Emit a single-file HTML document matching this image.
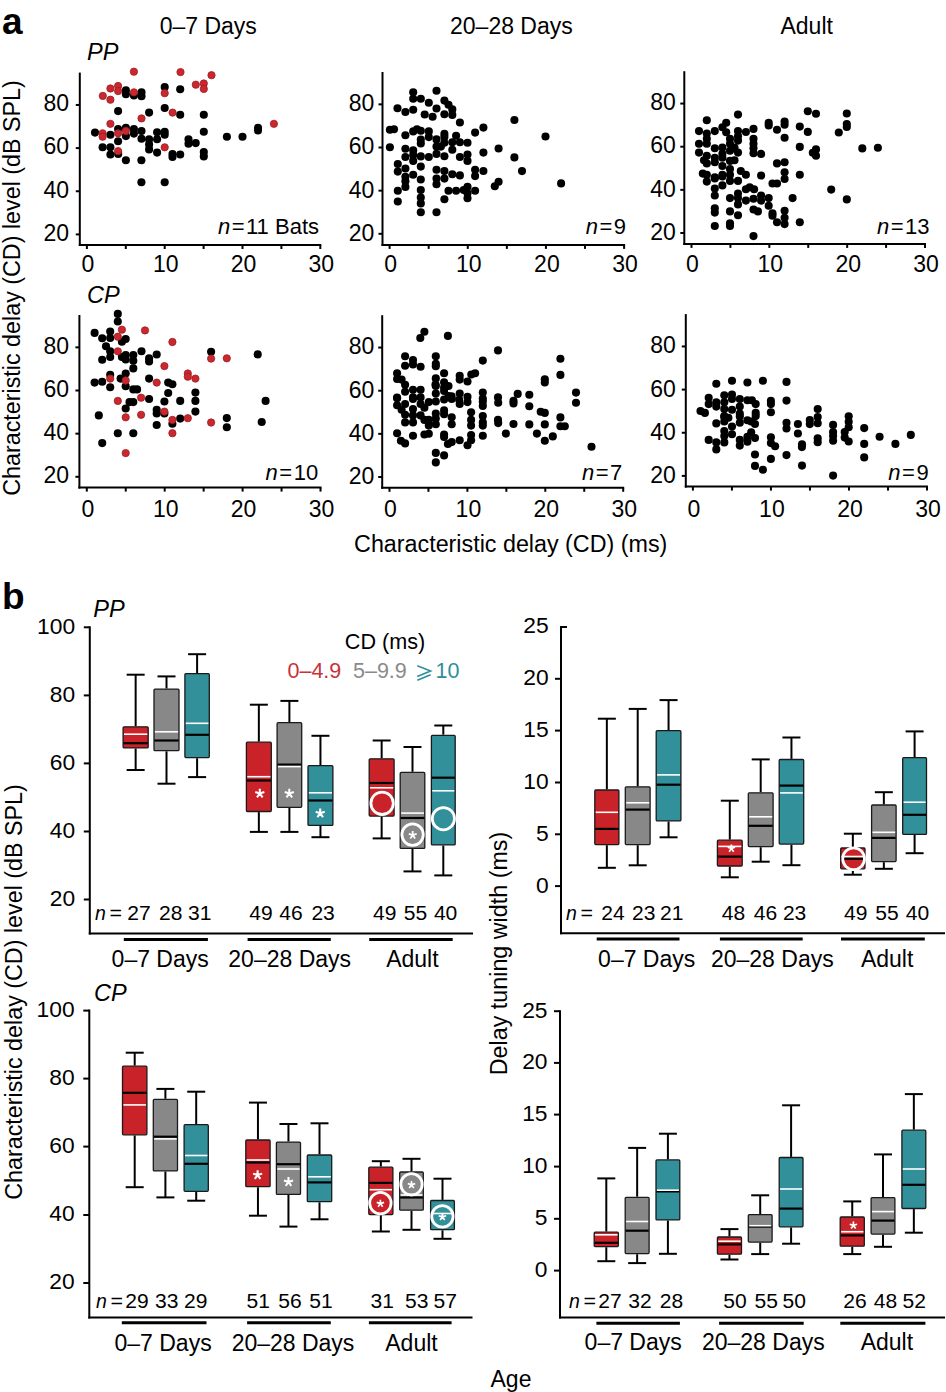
<!DOCTYPE html>
<html><head><meta charset="utf-8"><style>
html,body{margin:0;padding:0;background:#fff;}
svg{display:block;}
text{font-family:"Liberation Sans", sans-serif;}
</style></head><body>
<svg width="946" height="1392" viewBox="0 0 946 1392" font-family='"Liberation Sans", sans-serif'>
<rect width="946" height="1392" fill="#fff"/>
<line x1="79.80" y1="72.59" x2="79.80" y2="246.00" stroke="#000" stroke-width="2" stroke-linecap="butt"/>
<line x1="78.80" y1="245.00" x2="321.30" y2="245.00" stroke="#000" stroke-width="2" stroke-linecap="butt"/>
<line x1="75.80" y1="234.40" x2="79.80" y2="234.40" stroke="#000" stroke-width="2" stroke-linecap="butt"/>
<text x="69.0" y="240.7" font-size="23" text-anchor="end" fill="#000" font-weight="normal" >20</text>
<line x1="75.80" y1="191.25" x2="79.80" y2="191.25" stroke="#000" stroke-width="2" stroke-linecap="butt"/>
<text x="69.0" y="197.6" font-size="23" text-anchor="end" fill="#000" font-weight="normal" >40</text>
<line x1="75.80" y1="148.10" x2="79.80" y2="148.10" stroke="#000" stroke-width="2" stroke-linecap="butt"/>
<text x="69.0" y="154.4" font-size="23" text-anchor="end" fill="#000" font-weight="normal" >60</text>
<line x1="75.80" y1="104.95" x2="79.80" y2="104.95" stroke="#000" stroke-width="2" stroke-linecap="butt"/>
<text x="69.0" y="111.3" font-size="23" text-anchor="end" fill="#000" font-weight="normal" >80</text>
<line x1="86.90" y1="245.00" x2="86.90" y2="249.00" stroke="#000" stroke-width="2" stroke-linecap="butt"/>
<text x="87.9" y="272.2" font-size="23" text-anchor="middle" fill="#000" font-weight="normal" >0</text>
<line x1="125.80" y1="245.00" x2="125.80" y2="249.00" stroke="#000" stroke-width="2" stroke-linecap="butt"/>
<line x1="164.70" y1="245.00" x2="164.70" y2="249.00" stroke="#000" stroke-width="2" stroke-linecap="butt"/>
<text x="165.7" y="272.2" font-size="23" text-anchor="middle" fill="#000" font-weight="normal" >10</text>
<line x1="203.60" y1="245.00" x2="203.60" y2="249.00" stroke="#000" stroke-width="2" stroke-linecap="butt"/>
<line x1="242.50" y1="245.00" x2="242.50" y2="249.00" stroke="#000" stroke-width="2" stroke-linecap="butt"/>
<text x="243.5" y="272.2" font-size="23" text-anchor="middle" fill="#000" font-weight="normal" >20</text>
<line x1="281.40" y1="245.00" x2="281.40" y2="249.00" stroke="#000" stroke-width="2" stroke-linecap="butt"/>
<line x1="320.30" y1="245.00" x2="320.30" y2="249.00" stroke="#000" stroke-width="2" stroke-linecap="butt"/>
<text x="321.3" y="272.2" font-size="23" text-anchor="middle" fill="#000" font-weight="normal" >30</text>
<text x="319.0" y="234.0" font-size="22" text-anchor="end"><tspan font-style="italic">n</tspan><tspan dx="1.5">=</tspan><tspan dx="1.5">11 Bats</tspan></text>
<line x1="382.50" y1="71.99" x2="382.50" y2="245.90" stroke="#000" stroke-width="2" stroke-linecap="butt"/>
<line x1="381.50" y1="244.90" x2="625.10" y2="244.90" stroke="#000" stroke-width="2" stroke-linecap="butt"/>
<line x1="378.50" y1="233.80" x2="382.50" y2="233.80" stroke="#000" stroke-width="2" stroke-linecap="butt"/>
<text x="374.3" y="240.7" font-size="23" text-anchor="end" fill="#000" font-weight="normal" >20</text>
<line x1="378.50" y1="190.65" x2="382.50" y2="190.65" stroke="#000" stroke-width="2" stroke-linecap="butt"/>
<text x="374.3" y="197.6" font-size="23" text-anchor="end" fill="#000" font-weight="normal" >40</text>
<line x1="378.50" y1="147.50" x2="382.50" y2="147.50" stroke="#000" stroke-width="2" stroke-linecap="butt"/>
<text x="374.3" y="154.4" font-size="23" text-anchor="end" fill="#000" font-weight="normal" >60</text>
<line x1="378.50" y1="104.35" x2="382.50" y2="104.35" stroke="#000" stroke-width="2" stroke-linecap="butt"/>
<text x="374.3" y="111.3" font-size="23" text-anchor="end" fill="#000" font-weight="normal" >80</text>
<line x1="389.60" y1="244.90" x2="389.60" y2="248.90" stroke="#000" stroke-width="2" stroke-linecap="butt"/>
<text x="390.6" y="272.2" font-size="23" text-anchor="middle" fill="#000" font-weight="normal" >0</text>
<line x1="428.68" y1="244.90" x2="428.68" y2="248.90" stroke="#000" stroke-width="2" stroke-linecap="butt"/>
<line x1="467.77" y1="244.90" x2="467.77" y2="248.90" stroke="#000" stroke-width="2" stroke-linecap="butt"/>
<text x="468.8" y="272.2" font-size="23" text-anchor="middle" fill="#000" font-weight="normal" >10</text>
<line x1="506.85" y1="244.90" x2="506.85" y2="248.90" stroke="#000" stroke-width="2" stroke-linecap="butt"/>
<line x1="545.93" y1="244.90" x2="545.93" y2="248.90" stroke="#000" stroke-width="2" stroke-linecap="butt"/>
<text x="546.9" y="272.2" font-size="23" text-anchor="middle" fill="#000" font-weight="normal" >20</text>
<line x1="585.02" y1="244.90" x2="585.02" y2="248.90" stroke="#000" stroke-width="2" stroke-linecap="butt"/>
<line x1="624.10" y1="244.90" x2="624.10" y2="248.90" stroke="#000" stroke-width="2" stroke-linecap="butt"/>
<text x="625.1" y="272.2" font-size="23" text-anchor="middle" fill="#000" font-weight="normal" >30</text>
<text x="626.0" y="234.1" font-size="22" text-anchor="end"><tspan font-style="italic">n</tspan><tspan dx="1.5">=</tspan><tspan dx="1.5">9</tspan></text>
<line x1="684.30" y1="71.19" x2="684.30" y2="244.90" stroke="#000" stroke-width="2" stroke-linecap="butt"/>
<line x1="683.30" y1="243.90" x2="926.00" y2="243.90" stroke="#000" stroke-width="2" stroke-linecap="butt"/>
<line x1="680.30" y1="233.00" x2="684.30" y2="233.00" stroke="#000" stroke-width="2" stroke-linecap="butt"/>
<text x="675.9" y="239.6" font-size="23" text-anchor="end" fill="#000" font-weight="normal" >20</text>
<line x1="680.30" y1="189.85" x2="684.30" y2="189.85" stroke="#000" stroke-width="2" stroke-linecap="butt"/>
<text x="675.9" y="196.5" font-size="23" text-anchor="end" fill="#000" font-weight="normal" >40</text>
<line x1="680.30" y1="146.70" x2="684.30" y2="146.70" stroke="#000" stroke-width="2" stroke-linecap="butt"/>
<text x="675.9" y="153.3" font-size="23" text-anchor="end" fill="#000" font-weight="normal" >60</text>
<line x1="680.30" y1="103.55" x2="684.30" y2="103.55" stroke="#000" stroke-width="2" stroke-linecap="butt"/>
<text x="675.9" y="110.2" font-size="23" text-anchor="end" fill="#000" font-weight="normal" >80</text>
<line x1="691.50" y1="243.90" x2="691.50" y2="247.90" stroke="#000" stroke-width="2" stroke-linecap="butt"/>
<text x="692.5" y="272.2" font-size="23" text-anchor="middle" fill="#000" font-weight="normal" >0</text>
<line x1="730.42" y1="243.90" x2="730.42" y2="247.90" stroke="#000" stroke-width="2" stroke-linecap="butt"/>
<line x1="769.33" y1="243.90" x2="769.33" y2="247.90" stroke="#000" stroke-width="2" stroke-linecap="butt"/>
<text x="770.3" y="272.2" font-size="23" text-anchor="middle" fill="#000" font-weight="normal" >10</text>
<line x1="808.25" y1="243.90" x2="808.25" y2="247.90" stroke="#000" stroke-width="2" stroke-linecap="butt"/>
<line x1="847.17" y1="243.90" x2="847.17" y2="247.90" stroke="#000" stroke-width="2" stroke-linecap="butt"/>
<text x="848.2" y="272.2" font-size="23" text-anchor="middle" fill="#000" font-weight="normal" >20</text>
<line x1="886.08" y1="243.90" x2="886.08" y2="247.90" stroke="#000" stroke-width="2" stroke-linecap="butt"/>
<line x1="925.00" y1="243.90" x2="925.00" y2="247.90" stroke="#000" stroke-width="2" stroke-linecap="butt"/>
<text x="926.0" y="272.2" font-size="23" text-anchor="middle" fill="#000" font-weight="normal" >30</text>
<text x="929.6" y="234.1" font-size="22" text-anchor="end"><tspan font-style="italic">n</tspan><tspan dx="1.5">=</tspan><tspan dx="1.5">13</tspan></text>
<line x1="79.40" y1="314.99" x2="79.40" y2="488.60" stroke="#000" stroke-width="2" stroke-linecap="butt"/>
<line x1="78.40" y1="487.60" x2="321.50" y2="487.60" stroke="#000" stroke-width="2" stroke-linecap="butt"/>
<line x1="75.40" y1="476.80" x2="79.40" y2="476.80" stroke="#000" stroke-width="2" stroke-linecap="butt"/>
<text x="69.0" y="483.1" font-size="23" text-anchor="end" fill="#000" font-weight="normal" >20</text>
<line x1="75.40" y1="433.65" x2="79.40" y2="433.65" stroke="#000" stroke-width="2" stroke-linecap="butt"/>
<text x="69.0" y="440.0" font-size="23" text-anchor="end" fill="#000" font-weight="normal" >40</text>
<line x1="75.40" y1="390.50" x2="79.40" y2="390.50" stroke="#000" stroke-width="2" stroke-linecap="butt"/>
<text x="69.0" y="396.8" font-size="23" text-anchor="end" fill="#000" font-weight="normal" >60</text>
<line x1="75.40" y1="347.35" x2="79.40" y2="347.35" stroke="#000" stroke-width="2" stroke-linecap="butt"/>
<text x="69.0" y="353.7" font-size="23" text-anchor="end" fill="#000" font-weight="normal" >80</text>
<line x1="86.80" y1="487.60" x2="86.80" y2="491.60" stroke="#000" stroke-width="2" stroke-linecap="butt"/>
<text x="87.8" y="516.8" font-size="23" text-anchor="middle" fill="#000" font-weight="normal" >0</text>
<line x1="125.75" y1="487.60" x2="125.75" y2="491.60" stroke="#000" stroke-width="2" stroke-linecap="butt"/>
<line x1="164.70" y1="487.60" x2="164.70" y2="491.60" stroke="#000" stroke-width="2" stroke-linecap="butt"/>
<text x="165.7" y="516.8" font-size="23" text-anchor="middle" fill="#000" font-weight="normal" >10</text>
<line x1="203.65" y1="487.60" x2="203.65" y2="491.60" stroke="#000" stroke-width="2" stroke-linecap="butt"/>
<line x1="242.60" y1="487.60" x2="242.60" y2="491.60" stroke="#000" stroke-width="2" stroke-linecap="butt"/>
<text x="243.6" y="516.8" font-size="23" text-anchor="middle" fill="#000" font-weight="normal" >20</text>
<line x1="281.55" y1="487.60" x2="281.55" y2="491.60" stroke="#000" stroke-width="2" stroke-linecap="butt"/>
<line x1="320.50" y1="487.60" x2="320.50" y2="491.60" stroke="#000" stroke-width="2" stroke-linecap="butt"/>
<text x="321.5" y="516.8" font-size="23" text-anchor="middle" fill="#000" font-weight="normal" >30</text>
<text x="318.2" y="479.5" font-size="22" text-anchor="end"><tspan font-style="italic">n</tspan><tspan dx="1.5">=</tspan><tspan dx="1.5">10</tspan></text>
<line x1="382.20" y1="315.19" x2="382.20" y2="488.80" stroke="#000" stroke-width="2" stroke-linecap="butt"/>
<line x1="381.20" y1="487.80" x2="624.20" y2="487.80" stroke="#000" stroke-width="2" stroke-linecap="butt"/>
<line x1="378.20" y1="477.00" x2="382.20" y2="477.00" stroke="#000" stroke-width="2" stroke-linecap="butt"/>
<text x="374.3" y="483.9" font-size="23" text-anchor="end" fill="#000" font-weight="normal" >20</text>
<line x1="378.20" y1="433.85" x2="382.20" y2="433.85" stroke="#000" stroke-width="2" stroke-linecap="butt"/>
<text x="374.3" y="440.8" font-size="23" text-anchor="end" fill="#000" font-weight="normal" >40</text>
<line x1="378.20" y1="390.70" x2="382.20" y2="390.70" stroke="#000" stroke-width="2" stroke-linecap="butt"/>
<text x="374.3" y="397.6" font-size="23" text-anchor="end" fill="#000" font-weight="normal" >60</text>
<line x1="378.20" y1="347.55" x2="382.20" y2="347.55" stroke="#000" stroke-width="2" stroke-linecap="butt"/>
<text x="374.3" y="354.4" font-size="23" text-anchor="end" fill="#000" font-weight="normal" >80</text>
<line x1="389.50" y1="487.80" x2="389.50" y2="491.80" stroke="#000" stroke-width="2" stroke-linecap="butt"/>
<text x="390.5" y="516.8" font-size="23" text-anchor="middle" fill="#000" font-weight="normal" >0</text>
<line x1="428.45" y1="487.80" x2="428.45" y2="491.80" stroke="#000" stroke-width="2" stroke-linecap="butt"/>
<line x1="467.40" y1="487.80" x2="467.40" y2="491.80" stroke="#000" stroke-width="2" stroke-linecap="butt"/>
<text x="468.4" y="516.8" font-size="23" text-anchor="middle" fill="#000" font-weight="normal" >10</text>
<line x1="506.35" y1="487.80" x2="506.35" y2="491.80" stroke="#000" stroke-width="2" stroke-linecap="butt"/>
<line x1="545.30" y1="487.80" x2="545.30" y2="491.80" stroke="#000" stroke-width="2" stroke-linecap="butt"/>
<text x="546.3" y="516.8" font-size="23" text-anchor="middle" fill="#000" font-weight="normal" >20</text>
<line x1="584.25" y1="487.80" x2="584.25" y2="491.80" stroke="#000" stroke-width="2" stroke-linecap="butt"/>
<line x1="623.20" y1="487.80" x2="623.20" y2="491.80" stroke="#000" stroke-width="2" stroke-linecap="butt"/>
<text x="624.2" y="516.8" font-size="23" text-anchor="middle" fill="#000" font-weight="normal" >30</text>
<text x="622.3" y="479.5" font-size="22" text-anchor="end"><tspan font-style="italic">n</tspan><tspan dx="1.5">=</tspan><tspan dx="1.5">7</tspan></text>
<line x1="685.80" y1="314.09" x2="685.80" y2="487.60" stroke="#000" stroke-width="2" stroke-linecap="butt"/>
<line x1="684.80" y1="486.60" x2="928.00" y2="486.60" stroke="#000" stroke-width="2" stroke-linecap="butt"/>
<line x1="681.80" y1="475.90" x2="685.80" y2="475.90" stroke="#000" stroke-width="2" stroke-linecap="butt"/>
<text x="675.9" y="482.8" font-size="23" text-anchor="end" fill="#000" font-weight="normal" >20</text>
<line x1="681.80" y1="432.75" x2="685.80" y2="432.75" stroke="#000" stroke-width="2" stroke-linecap="butt"/>
<text x="675.9" y="439.6" font-size="23" text-anchor="end" fill="#000" font-weight="normal" >40</text>
<line x1="681.80" y1="389.60" x2="685.80" y2="389.60" stroke="#000" stroke-width="2" stroke-linecap="butt"/>
<text x="675.9" y="396.5" font-size="23" text-anchor="end" fill="#000" font-weight="normal" >60</text>
<line x1="681.80" y1="346.45" x2="685.80" y2="346.45" stroke="#000" stroke-width="2" stroke-linecap="butt"/>
<text x="675.9" y="353.3" font-size="23" text-anchor="end" fill="#000" font-weight="normal" >80</text>
<line x1="692.90" y1="486.60" x2="692.90" y2="490.60" stroke="#000" stroke-width="2" stroke-linecap="butt"/>
<text x="693.9" y="516.8" font-size="23" text-anchor="middle" fill="#000" font-weight="normal" >0</text>
<line x1="731.92" y1="486.60" x2="731.92" y2="490.60" stroke="#000" stroke-width="2" stroke-linecap="butt"/>
<line x1="770.93" y1="486.60" x2="770.93" y2="490.60" stroke="#000" stroke-width="2" stroke-linecap="butt"/>
<text x="771.9" y="516.8" font-size="23" text-anchor="middle" fill="#000" font-weight="normal" >10</text>
<line x1="809.95" y1="486.60" x2="809.95" y2="490.60" stroke="#000" stroke-width="2" stroke-linecap="butt"/>
<line x1="848.97" y1="486.60" x2="848.97" y2="490.60" stroke="#000" stroke-width="2" stroke-linecap="butt"/>
<text x="850.0" y="516.8" font-size="23" text-anchor="middle" fill="#000" font-weight="normal" >20</text>
<line x1="887.98" y1="486.60" x2="887.98" y2="490.60" stroke="#000" stroke-width="2" stroke-linecap="butt"/>
<line x1="927.00" y1="486.60" x2="927.00" y2="490.60" stroke="#000" stroke-width="2" stroke-linecap="butt"/>
<text x="928.0" y="516.8" font-size="23" text-anchor="middle" fill="#000" font-weight="normal" >30</text>
<text x="928.7" y="479.5" font-size="22" text-anchor="end"><tspan font-style="italic">n</tspan><tspan dx="1.5">=</tspan><tspan dx="1.5">9</tspan></text>
<g fill="#000"><circle cx="164.7" cy="87" r="4.05"/><circle cx="180.2" cy="89.2" r="4.05"/><circle cx="125.9" cy="90.4" r="4.05"/><circle cx="125.9" cy="94.3" r="4.05"/><circle cx="133.9" cy="95.5" r="4.05"/><circle cx="141.5" cy="92.3" r="4.05"/><circle cx="141.5" cy="96.2" r="4.05"/><circle cx="118.1" cy="111.1" r="4.05"/><circle cx="149.1" cy="112.6" r="4.05"/><circle cx="164.7" cy="108" r="4.05"/><circle cx="180.2" cy="114.8" r="4.05"/><circle cx="95" cy="132.6" r="4.05"/><circle cx="110.4" cy="134.8" r="4.05"/><circle cx="118.1" cy="129.1" r="4.05"/><circle cx="118.1" cy="141.2" r="4.05"/><circle cx="125.9" cy="127.9" r="4.05"/><circle cx="125.9" cy="136.1" r="4.05"/><circle cx="133.9" cy="129.1" r="4.05"/><circle cx="133.9" cy="133.6" r="4.05"/><circle cx="141.5" cy="131" r="4.05"/><circle cx="141.5" cy="138.7" r="4.05"/><circle cx="149.1" cy="139.3" r="4.05"/><circle cx="149.1" cy="144.4" r="4.05"/><circle cx="149.1" cy="149.4" r="4.05"/><circle cx="157.1" cy="132.3" r="4.05"/><circle cx="157.1" cy="139.3" r="4.05"/><circle cx="157.1" cy="152.6" r="4.05"/><circle cx="164.7" cy="131.7" r="4.05"/><circle cx="164.7" cy="134.8" r="4.05"/><circle cx="188.5" cy="139.3" r="4.05"/><circle cx="188.5" cy="143.7" r="4.05"/><circle cx="195.7" cy="143.1" r="4.05"/><circle cx="102.6" cy="147.3" r="4.05"/><circle cx="110.4" cy="147.3" r="4.05"/><circle cx="110.4" cy="154.5" r="4.05"/><circle cx="172.5" cy="154.1" r="4.05"/><circle cx="172.5" cy="157" r="4.05"/><circle cx="180.2" cy="154.5" r="4.05"/><circle cx="125.9" cy="160.3" r="4.05"/><circle cx="141.4" cy="160.3" r="4.05"/><circle cx="203.8" cy="114.8" r="4.05"/><circle cx="203.8" cy="131.7" r="4.05"/><circle cx="226.9" cy="136.7" r="4.05"/><circle cx="242.5" cy="136.7" r="4.05"/><circle cx="258" cy="127.9" r="4.05"/><circle cx="258" cy="130.4" r="4.05"/><circle cx="203.8" cy="152" r="4.05"/><circle cx="203.8" cy="156.4" r="4.05"/><circle cx="141.4" cy="182.2" r="4.05"/><circle cx="164.7" cy="182.2" r="4.05"/><circle cx="118.2" cy="154" r="4.05"/></g>
<g fill="#c9282f" stroke="#a01c22" stroke-width="0.8"><circle cx="133.9" cy="71.7" r="3.65"/><circle cx="180.5" cy="72.1" r="3.65"/><circle cx="211.5" cy="75.2" r="3.65"/><circle cx="195.8" cy="84.7" r="3.65"/><circle cx="203.8" cy="83.5" r="3.65"/><circle cx="203.8" cy="88.9" r="3.65"/><circle cx="110.4" cy="88.5" r="3.65"/><circle cx="118.1" cy="86" r="3.65"/><circle cx="118.1" cy="91.1" r="3.65"/><circle cx="102.8" cy="95.9" r="3.65"/><circle cx="110.4" cy="99.7" r="3.65"/><circle cx="133.9" cy="92.3" r="3.65"/><circle cx="164.7" cy="93.2" r="3.65"/><circle cx="172.6" cy="112.6" r="3.65"/><circle cx="141.5" cy="118.4" r="3.65"/><circle cx="110.4" cy="123.8" r="3.65"/><circle cx="102.6" cy="133.3" r="3.65"/><circle cx="102.6" cy="136.7" r="3.65"/><circle cx="118.1" cy="133.3" r="3.65"/><circle cx="125.9" cy="131" r="3.65"/><circle cx="164.7" cy="147.3" r="3.65"/><circle cx="118.1" cy="151.1" r="3.65"/><circle cx="273.9" cy="123.8" r="3.65"/></g>
<g fill="#000"><circle cx="413.2" cy="92.3" r="4.05"/><circle cx="413.2" cy="98.8" r="4.05"/><circle cx="436.5" cy="90.8" r="4.05"/><circle cx="420.8" cy="98.8" r="4.05"/><circle cx="428.8" cy="102.8" r="4.05"/><circle cx="444.4" cy="100.6" r="4.05"/><circle cx="448.5" cy="104.7" r="4.05"/><circle cx="452.3" cy="109.4" r="4.05"/><circle cx="452.3" cy="114.9" r="4.05"/><circle cx="397.5" cy="108.2" r="4.05"/><circle cx="405.4" cy="112" r="4.05"/><circle cx="413.2" cy="109.8" r="4.05"/><circle cx="436.5" cy="108.5" r="4.05"/><circle cx="424.7" cy="114.5" r="4.05"/><circle cx="432.6" cy="116.8" r="4.05"/><circle cx="444.4" cy="114.3" r="4.05"/><circle cx="459.9" cy="122.5" r="4.05"/><circle cx="483.4" cy="127.6" r="4.05"/><circle cx="475.1" cy="132.6" r="4.05"/><circle cx="389.9" cy="129.7" r="4.05"/><circle cx="394" cy="129.2" r="4.05"/><circle cx="405.4" cy="135.2" r="4.05"/><circle cx="413.2" cy="131.4" r="4.05"/><circle cx="417" cy="129.2" r="4.05"/><circle cx="420.8" cy="130.7" r="4.05"/><circle cx="428.8" cy="131.4" r="4.05"/><circle cx="428.8" cy="137.1" r="4.05"/><circle cx="420.8" cy="139.6" r="4.05"/><circle cx="420.8" cy="143.4" r="4.05"/><circle cx="436.5" cy="139.4" r="4.05"/><circle cx="444.4" cy="133.9" r="4.05"/><circle cx="444.4" cy="137.1" r="4.05"/><circle cx="444.4" cy="142.8" r="4.05"/><circle cx="436.5" cy="146.6" r="4.05"/><circle cx="440.9" cy="146.6" r="4.05"/><circle cx="456.1" cy="135.8" r="4.05"/><circle cx="452.3" cy="142.2" r="4.05"/><circle cx="459.9" cy="142.2" r="4.05"/><circle cx="467.5" cy="142.8" r="4.05"/><circle cx="452.3" cy="149.8" r="4.05"/><circle cx="389.9" cy="147.2" r="4.05"/><circle cx="405.4" cy="148.8" r="4.05"/><circle cx="413.2" cy="150.4" r="4.05"/><circle cx="498.6" cy="148.5" r="4.05"/><circle cx="483.4" cy="152.6" r="4.05"/><circle cx="405.4" cy="157" r="4.05"/><circle cx="413.2" cy="155.1" r="4.05"/><circle cx="413.2" cy="160.9" r="4.05"/><circle cx="420.8" cy="156.4" r="4.05"/><circle cx="428.8" cy="157" r="4.05"/><circle cx="436.5" cy="153.9" r="4.05"/><circle cx="444.4" cy="156.2" r="4.05"/><circle cx="459.9" cy="157" r="4.05"/><circle cx="467.5" cy="154.5" r="4.05"/><circle cx="467.5" cy="160.9" r="4.05"/><circle cx="397.8" cy="164" r="4.05"/><circle cx="397.8" cy="171.6" r="4.05"/><circle cx="405.4" cy="168.5" r="4.05"/><circle cx="420.8" cy="166.6" r="4.05"/><circle cx="405.4" cy="176.7" r="4.05"/><circle cx="405.4" cy="181.2" r="4.05"/><circle cx="405.4" cy="186.9" r="4.05"/><circle cx="413.2" cy="174.8" r="4.05"/><circle cx="420.8" cy="179.5" r="4.05"/><circle cx="436.5" cy="169.7" r="4.05"/><circle cx="436.5" cy="178.6" r="4.05"/><circle cx="436.5" cy="184.3" r="4.05"/><circle cx="444.4" cy="171" r="4.05"/><circle cx="444.4" cy="178.6" r="4.05"/><circle cx="452.3" cy="174.2" r="4.05"/><circle cx="459.9" cy="175.4" r="4.05"/><circle cx="475.1" cy="169.7" r="4.05"/><circle cx="475.1" cy="176.1" r="4.05"/><circle cx="483.4" cy="171" r="4.05"/><circle cx="494.8" cy="186.2" r="4.05"/><circle cx="498.6" cy="181.8" r="4.05"/><circle cx="397.8" cy="190.7" r="4.05"/><circle cx="420.8" cy="190" r="4.05"/><circle cx="448.5" cy="190.7" r="4.05"/><circle cx="456.1" cy="190.7" r="4.05"/><circle cx="463.7" cy="190" r="4.05"/><circle cx="467.5" cy="186.9" r="4.05"/><circle cx="467.5" cy="193.2" r="4.05"/><circle cx="467.5" cy="198.3" r="4.05"/><circle cx="475.1" cy="190.7" r="4.05"/><circle cx="397.8" cy="201.5" r="4.05"/><circle cx="420.8" cy="197.6" r="4.05"/><circle cx="420.8" cy="203.4" r="4.05"/><circle cx="444.4" cy="199.3" r="4.05"/><circle cx="420.8" cy="212.2" r="4.05"/><circle cx="436.5" cy="212.2" r="4.05"/><circle cx="514.4" cy="120" r="4.05"/><circle cx="545.5" cy="136.5" r="4.05"/><circle cx="514.4" cy="157.4" r="4.05"/><circle cx="522" cy="171.1" r="4.05"/><circle cx="561.1" cy="183.4" r="4.05"/></g>
<g fill="#000"><circle cx="738" cy="114.6" r="4.05"/><circle cx="706.8" cy="120.3" r="4.05"/><circle cx="726.2" cy="122.8" r="4.05"/><circle cx="722.4" cy="127.3" r="4.05"/><circle cx="699" cy="131.1" r="4.05"/><circle cx="706.8" cy="133.6" r="4.05"/><circle cx="706.8" cy="138.7" r="4.05"/><circle cx="706.8" cy="143.8" r="4.05"/><circle cx="714.8" cy="131.1" r="4.05"/><circle cx="726.2" cy="132.3" r="4.05"/><circle cx="738" cy="131.1" r="4.05"/><circle cx="738" cy="136.2" r="4.05"/><circle cx="738" cy="140.6" r="4.05"/><circle cx="745.9" cy="132" r="4.05"/><circle cx="753.5" cy="128.9" r="4.05"/><circle cx="753.5" cy="138.7" r="4.05"/><circle cx="753.5" cy="143.8" r="4.05"/><circle cx="753.5" cy="148.2" r="4.05"/><circle cx="753.5" cy="153.3" r="4.05"/><circle cx="761.1" cy="153.9" r="4.05"/><circle cx="699" cy="143.8" r="4.05"/><circle cx="699" cy="152.6" r="4.05"/><circle cx="714.8" cy="148.2" r="4.05"/><circle cx="722.4" cy="147.6" r="4.05"/><circle cx="722.4" cy="153.9" r="4.05"/><circle cx="722.4" cy="157.7" r="4.05"/><circle cx="730" cy="138.7" r="4.05"/><circle cx="730" cy="143.8" r="4.05"/><circle cx="730" cy="150.7" r="4.05"/><circle cx="734.5" cy="147.6" r="4.05"/><circle cx="738" cy="152.6" r="4.05"/><circle cx="704" cy="160.3" r="4.05"/><circle cx="706.8" cy="155.8" r="4.05"/><circle cx="706.8" cy="163.4" r="4.05"/><circle cx="714.8" cy="157.7" r="4.05"/><circle cx="714.8" cy="162.2" r="4.05"/><circle cx="730" cy="160.9" r="4.05"/><circle cx="734.5" cy="160.3" r="4.05"/><circle cx="722.4" cy="166" r="4.05"/><circle cx="768.7" cy="122.8" r="4.05"/><circle cx="768.7" cy="125.4" r="4.05"/><circle cx="777" cy="129.8" r="4.05"/><circle cx="784.6" cy="121.6" r="4.05"/><circle cx="784.6" cy="124.7" r="4.05"/><circle cx="784.6" cy="137.8" r="4.05"/><circle cx="799.8" cy="126.6" r="4.05"/><circle cx="799.8" cy="146.9" r="4.05"/><circle cx="777" cy="163.4" r="4.05"/><circle cx="784.6" cy="162.2" r="4.05"/><circle cx="784.6" cy="172.3" r="4.05"/><circle cx="761.1" cy="175.5" r="4.05"/><circle cx="799.8" cy="174.8" r="4.05"/><circle cx="702.8" cy="173.6" r="4.05"/><circle cx="706.8" cy="174.8" r="4.05"/><circle cx="714.8" cy="177.4" r="4.05"/><circle cx="722.4" cy="174.8" r="4.05"/><circle cx="730" cy="169.1" r="4.05"/><circle cx="730" cy="174.8" r="4.05"/><circle cx="740.8" cy="171" r="4.05"/><circle cx="745.9" cy="174.8" r="4.05"/><circle cx="706.8" cy="181.6" r="4.05"/><circle cx="714.8" cy="178.4" r="4.05"/><circle cx="722.4" cy="176.5" r="4.05"/><circle cx="722.4" cy="185.4" r="4.05"/><circle cx="730" cy="180.9" r="4.05"/><circle cx="738" cy="180.9" r="4.05"/><circle cx="714.8" cy="188.5" r="4.05"/><circle cx="714.8" cy="195.5" r="4.05"/><circle cx="730" cy="198.1" r="4.05"/><circle cx="738" cy="193.6" r="4.05"/><circle cx="738" cy="198.1" r="4.05"/><circle cx="738" cy="204.4" r="4.05"/><circle cx="745.9" cy="189.2" r="4.05"/><circle cx="749.7" cy="187.3" r="4.05"/><circle cx="754.1" cy="189.2" r="4.05"/><circle cx="745.9" cy="200.6" r="4.05"/><circle cx="753.5" cy="198.7" r="4.05"/><circle cx="761.1" cy="195.5" r="4.05"/><circle cx="761.1" cy="200.6" r="4.05"/><circle cx="768.7" cy="198.1" r="4.05"/><circle cx="768.7" cy="205.7" r="4.05"/><circle cx="772.5" cy="183.5" r="4.05"/><circle cx="777" cy="183.5" r="4.05"/><circle cx="784.6" cy="179" r="4.05"/><circle cx="792.6" cy="198.1" r="4.05"/><circle cx="714.8" cy="208.2" r="4.05"/><circle cx="714.8" cy="212.6" r="4.05"/><circle cx="730" cy="211.4" r="4.05"/><circle cx="738" cy="215.2" r="4.05"/><circle cx="753.5" cy="209.5" r="4.05"/><circle cx="757.9" cy="211.4" r="4.05"/><circle cx="772.5" cy="213.3" r="4.05"/><circle cx="772.5" cy="215.8" r="4.05"/><circle cx="777" cy="222.2" r="4.05"/><circle cx="784.6" cy="210.7" r="4.05"/><circle cx="784.6" cy="217.7" r="4.05"/><circle cx="784.6" cy="224.1" r="4.05"/><circle cx="799.8" cy="222.2" r="4.05"/><circle cx="714.8" cy="226" r="4.05"/><circle cx="730" cy="223.4" r="4.05"/><circle cx="730" cy="226" r="4.05"/><circle cx="753.5" cy="236.1" r="4.05"/><circle cx="807.8" cy="111.3" r="4.05"/><circle cx="816" cy="113.7" r="4.05"/><circle cx="846.8" cy="113.5" r="4.05"/><circle cx="807.8" cy="131.9" r="4.05"/><circle cx="846.8" cy="124" r="4.05"/><circle cx="846.8" cy="127" r="4.05"/><circle cx="838.8" cy="132.5" r="4.05"/><circle cx="816" cy="149.4" r="4.05"/><circle cx="812.8" cy="152.8" r="4.05"/><circle cx="816" cy="155.7" r="4.05"/><circle cx="862.3" cy="148.4" r="4.05"/><circle cx="877.9" cy="147.7" r="4.05"/><circle cx="831.2" cy="189.6" r="4.05"/><circle cx="846.8" cy="199.4" r="4.05"/></g>
<g fill="#000"><circle cx="117.8" cy="313.9" r="4.05"/><circle cx="117.8" cy="321.5" r="4.05"/><circle cx="94.6" cy="332.9" r="4.05"/><circle cx="102.2" cy="338.2" r="4.05"/><circle cx="110.2" cy="331.6" r="4.05"/><circle cx="110.2" cy="338" r="4.05"/><circle cx="121.9" cy="341.8" r="4.05"/><circle cx="125.7" cy="339" r="4.05"/><circle cx="106" cy="346.2" r="4.05"/><circle cx="110.2" cy="351.3" r="4.05"/><circle cx="110.2" cy="357" r="4.05"/><circle cx="102.2" cy="359.8" r="4.05"/><circle cx="121.9" cy="357" r="4.05"/><circle cx="125.7" cy="355.1" r="4.05"/><circle cx="125.7" cy="359.5" r="4.05"/><circle cx="133.3" cy="355.1" r="4.05"/><circle cx="133.3" cy="360.8" r="4.05"/><circle cx="133.3" cy="368.4" r="4.05"/><circle cx="141.5" cy="351.3" r="4.05"/><circle cx="149.1" cy="358.3" r="4.05"/><circle cx="149.1" cy="361.5" r="4.05"/><circle cx="156.7" cy="354.5" r="4.05"/><circle cx="94.6" cy="382.6" r="4.05"/><circle cx="102.2" cy="381.7" r="4.05"/><circle cx="110.2" cy="374.8" r="4.05"/><circle cx="110.2" cy="387.2" r="4.05"/><circle cx="120.6" cy="378.6" r="4.05"/><circle cx="125.7" cy="373.5" r="4.05"/><circle cx="125.7" cy="386.2" r="4.05"/><circle cx="133.3" cy="389.4" r="4.05"/><circle cx="137.1" cy="389.4" r="4.05"/><circle cx="149.1" cy="378.6" r="4.05"/><circle cx="168.2" cy="382.6" r="4.05"/><circle cx="172.4" cy="384.3" r="4.05"/><circle cx="168.2" cy="393" r="4.05"/><circle cx="195.4" cy="392.6" r="4.05"/><circle cx="195.4" cy="400.9" r="4.05"/><circle cx="149.1" cy="399" r="4.05"/><circle cx="129.5" cy="402.1" r="4.05"/><circle cx="133.3" cy="402.1" r="4.05"/><circle cx="125.7" cy="408.5" r="4.05"/><circle cx="164.4" cy="401.5" r="4.05"/><circle cx="180.2" cy="400.9" r="4.05"/><circle cx="195.4" cy="411.6" r="4.05"/><circle cx="98.8" cy="415.4" r="4.05"/><circle cx="156.7" cy="409.7" r="4.05"/><circle cx="156.7" cy="413.5" r="4.05"/><circle cx="164.4" cy="413.5" r="4.05"/><circle cx="156.7" cy="425" r="4.05"/><circle cx="172.4" cy="423.7" r="4.05"/><circle cx="180.2" cy="418.6" r="4.05"/><circle cx="117.8" cy="433.2" r="4.05"/><circle cx="133.3" cy="433.2" r="4.05"/><circle cx="102.2" cy="443.1" r="4.05"/><circle cx="211.1" cy="351.7" r="4.05"/><circle cx="257.7" cy="354.4" r="4.05"/><circle cx="226.8" cy="418.1" r="4.05"/><circle cx="226.8" cy="427.3" r="4.05"/><circle cx="265.6" cy="400.9" r="4.05"/><circle cx="261.7" cy="422" r="4.05"/></g>
<g fill="#c9282f" stroke="#a01c22" stroke-width="0.8"><circle cx="121.9" cy="329.7" r="3.65"/><circle cx="117.8" cy="336.7" r="3.65"/><circle cx="145" cy="330.4" r="3.65"/><circle cx="172.4" cy="342" r="3.65"/><circle cx="117.8" cy="351.3" r="3.65"/><circle cx="164.4" cy="366.1" r="3.65"/><circle cx="187.8" cy="373.5" r="3.65"/><circle cx="187.8" cy="376.7" r="3.65"/><circle cx="195.4" cy="378.6" r="3.65"/><circle cx="110.2" cy="378.6" r="3.65"/><circle cx="125.7" cy="380.5" r="3.65"/><circle cx="156.7" cy="382.6" r="3.65"/><circle cx="117.8" cy="400.9" r="3.65"/><circle cx="141.1" cy="397.7" r="3.65"/><circle cx="125.7" cy="417.3" r="3.65"/><circle cx="141.1" cy="414.8" r="3.65"/><circle cx="164.4" cy="411.6" r="3.65"/><circle cx="172.4" cy="419.9" r="3.65"/><circle cx="187.8" cy="418.2" r="3.65"/><circle cx="172.4" cy="433.2" r="3.65"/><circle cx="125.7" cy="453.1" r="3.65"/><circle cx="211.1" cy="358.6" r="3.65"/><circle cx="226.8" cy="358.3" r="3.65"/><circle cx="211.1" cy="422.5" r="3.65"/></g>
<g fill="#000"><circle cx="424.4" cy="331.7" r="4.05"/><circle cx="420.3" cy="338" r="4.05"/><circle cx="447.9" cy="335.9" r="4.05"/><circle cx="405.1" cy="356.2" r="4.05"/><circle cx="413" cy="360" r="4.05"/><circle cx="413" cy="364.4" r="4.05"/><circle cx="405.1" cy="365.7" r="4.05"/><circle cx="420.6" cy="366.7" r="4.05"/><circle cx="435.8" cy="356.2" r="4.05"/><circle cx="435.8" cy="363.8" r="4.05"/><circle cx="435.8" cy="366.3" r="4.05"/><circle cx="498" cy="350.4" r="4.05"/><circle cx="482.8" cy="360.6" r="4.05"/><circle cx="397.1" cy="373.3" r="4.05"/><circle cx="397.1" cy="379" r="4.05"/><circle cx="401.6" cy="379.6" r="4.05"/><circle cx="405.1" cy="384.7" r="4.05"/><circle cx="405.1" cy="391.7" r="4.05"/><circle cx="413" cy="389.8" r="4.05"/><circle cx="420.6" cy="389.8" r="4.05"/><circle cx="435.8" cy="378.4" r="4.05"/><circle cx="435.8" cy="386" r="4.05"/><circle cx="444.1" cy="373.3" r="4.05"/><circle cx="444.1" cy="382.2" r="4.05"/><circle cx="448.5" cy="386" r="4.05"/><circle cx="459.7" cy="375.8" r="4.05"/><circle cx="459.7" cy="379.6" r="4.05"/><circle cx="467.5" cy="381.5" r="4.05"/><circle cx="471.3" cy="374.5" r="4.05"/><circle cx="475.1" cy="373.3" r="4.05"/><circle cx="482.8" cy="392.6" r="4.05"/><circle cx="397.1" cy="397.6" r="4.05"/><circle cx="413" cy="397.4" r="4.05"/><circle cx="420.6" cy="397.4" r="4.05"/><circle cx="435.8" cy="393.6" r="4.05"/><circle cx="444.1" cy="391" r="4.05"/><circle cx="448.5" cy="396.1" r="4.05"/><circle cx="459.7" cy="393.6" r="4.05"/><circle cx="467.5" cy="396.7" r="4.05"/><circle cx="498" cy="397.4" r="4.05"/><circle cx="482.8" cy="398.6" r="4.05"/><circle cx="397.1" cy="398.3" r="4.05"/><circle cx="397.1" cy="405.3" r="4.05"/><circle cx="405.1" cy="404" r="4.05"/><circle cx="401.6" cy="409.7" r="4.05"/><circle cx="405.1" cy="414.8" r="4.05"/><circle cx="405.1" cy="422.4" r="4.05"/><circle cx="413" cy="399" r="4.05"/><circle cx="413" cy="409.1" r="4.05"/><circle cx="413" cy="415.4" r="4.05"/><circle cx="413" cy="422.4" r="4.05"/><circle cx="420.6" cy="404" r="4.05"/><circle cx="420.6" cy="415.4" r="4.05"/><circle cx="424.4" cy="407.8" r="4.05"/><circle cx="428.8" cy="402.1" r="4.05"/><circle cx="424.4" cy="419.9" r="4.05"/><circle cx="428.8" cy="419.9" r="4.05"/><circle cx="428.8" cy="425.6" r="4.05"/><circle cx="435.8" cy="401.5" r="4.05"/><circle cx="435.8" cy="413.5" r="4.05"/><circle cx="435.8" cy="418.6" r="4.05"/><circle cx="435.8" cy="424.3" r="4.05"/><circle cx="444.1" cy="387.5" r="4.05"/><circle cx="444.1" cy="410.4" r="4.05"/><circle cx="444.1" cy="414.2" r="4.05"/><circle cx="451.7" cy="399" r="4.05"/><circle cx="451.7" cy="417.3" r="4.05"/><circle cx="451.7" cy="424.3" r="4.05"/><circle cx="459.7" cy="404" r="4.05"/><circle cx="467.5" cy="402.1" r="4.05"/><circle cx="482.8" cy="401.5" r="4.05"/><circle cx="482.8" cy="405.9" r="4.05"/><circle cx="482.8" cy="416.1" r="4.05"/><circle cx="482.8" cy="422.4" r="4.05"/><circle cx="482.8" cy="425.6" r="4.05"/><circle cx="482.8" cy="435.7" r="4.05"/><circle cx="471.1" cy="412.3" r="4.05"/><circle cx="471.1" cy="419.9" r="4.05"/><circle cx="471.1" cy="425.6" r="4.05"/><circle cx="471.1" cy="435.1" r="4.05"/><circle cx="471.1" cy="440.2" r="4.05"/><circle cx="467.5" cy="445.3" r="4.05"/><circle cx="498" cy="419.9" r="4.05"/><circle cx="397.1" cy="433.2" r="4.05"/><circle cx="400.9" cy="440.8" r="4.05"/><circle cx="405.1" cy="443.4" r="4.05"/><circle cx="413" cy="435.7" r="4.05"/><circle cx="424.4" cy="434.5" r="4.05"/><circle cx="428.8" cy="433.8" r="4.05"/><circle cx="444.1" cy="434.5" r="4.05"/><circle cx="444.1" cy="437" r="4.05"/><circle cx="447.9" cy="444" r="4.05"/><circle cx="451.7" cy="442.1" r="4.05"/><circle cx="459.7" cy="440.2" r="4.05"/><circle cx="435.8" cy="452.9" r="4.05"/><circle cx="444.1" cy="455.4" r="4.05"/><circle cx="435.8" cy="462.4" r="4.05"/><circle cx="444.1" cy="399.5" r="4.05"/><circle cx="451.6" cy="396.4" r="4.05"/><circle cx="459.2" cy="399.7" r="4.05"/><circle cx="435.5" cy="384.5" r="4.05"/><circle cx="560.4" cy="358.8" r="4.05"/><circle cx="560.4" cy="374.9" r="4.05"/><circle cx="544.8" cy="379.3" r="4.05"/><circle cx="544.8" cy="382.5" r="4.05"/><circle cx="576" cy="392.6" r="4.05"/><circle cx="576" cy="402.8" r="4.05"/><circle cx="498.2" cy="402.8" r="4.05"/><circle cx="517.7" cy="393.9" r="4.05"/><circle cx="513.5" cy="400.9" r="4.05"/><circle cx="513.5" cy="403.4" r="4.05"/><circle cx="529.3" cy="394.8" r="4.05"/><circle cx="529.3" cy="406.2" r="4.05"/><circle cx="540.7" cy="411.7" r="4.05"/><circle cx="544.8" cy="412.9" r="4.05"/><circle cx="498.2" cy="423.1" r="4.05"/><circle cx="513.5" cy="424" r="4.05"/><circle cx="529.3" cy="424.4" r="4.05"/><circle cx="544.8" cy="424.4" r="4.05"/><circle cx="560.4" cy="417.4" r="4.05"/><circle cx="560.4" cy="426.3" r="4.05"/><circle cx="564.8" cy="426.3" r="4.05"/><circle cx="505.9" cy="433.6" r="4.05"/><circle cx="536.9" cy="433.6" r="4.05"/><circle cx="552.8" cy="436.4" r="4.05"/><circle cx="544.8" cy="440.8" r="4.05"/><circle cx="591.5" cy="446.8" r="4.05"/></g>
<g fill="#000"><circle cx="716.3" cy="383.8" r="4.05"/><circle cx="732" cy="380.8" r="4.05"/><circle cx="747.4" cy="382.5" r="4.05"/><circle cx="762.9" cy="380.8" r="4.05"/><circle cx="786.5" cy="381.9" r="4.05"/><circle cx="708.7" cy="397.7" r="4.05"/><circle cx="708.7" cy="404.1" r="4.05"/><circle cx="716.3" cy="402.2" r="4.05"/><circle cx="716.3" cy="406.6" r="4.05"/><circle cx="700.5" cy="411" r="4.05"/><circle cx="704.9" cy="412.9" r="4.05"/><circle cx="724.3" cy="395.2" r="4.05"/><circle cx="724.3" cy="402.2" r="4.05"/><circle cx="724.3" cy="409.1" r="4.05"/><circle cx="724.3" cy="416.1" r="4.05"/><circle cx="732" cy="394.5" r="4.05"/><circle cx="732" cy="399" r="4.05"/><circle cx="732" cy="409.8" r="4.05"/><circle cx="739.8" cy="399" r="4.05"/><circle cx="739.8" cy="406.6" r="4.05"/><circle cx="739.8" cy="413.6" r="4.05"/><circle cx="747.4" cy="400.3" r="4.05"/><circle cx="751.9" cy="400.3" r="4.05"/><circle cx="755.7" cy="404.1" r="4.05"/><circle cx="755.7" cy="412.9" r="4.05"/><circle cx="755.7" cy="416.1" r="4.05"/><circle cx="770.9" cy="400.9" r="4.05"/><circle cx="770.9" cy="404.1" r="4.05"/><circle cx="770.9" cy="412.3" r="4.05"/><circle cx="786.5" cy="400.6" r="4.05"/><circle cx="716.3" cy="423.4" r="4.05"/><circle cx="724.3" cy="417.1" r="4.05"/><circle cx="724.3" cy="421.5" r="4.05"/><circle cx="724.3" cy="431" r="4.05"/><circle cx="724.3" cy="436.1" r="4.05"/><circle cx="724.3" cy="442.4" r="4.05"/><circle cx="728.4" cy="417.7" r="4.05"/><circle cx="732" cy="426.6" r="4.05"/><circle cx="732" cy="434.2" r="4.05"/><circle cx="739.8" cy="416.4" r="4.05"/><circle cx="739.8" cy="422.8" r="4.05"/><circle cx="739.8" cy="439.9" r="4.05"/><circle cx="739.8" cy="445.6" r="4.05"/><circle cx="747.4" cy="420.2" r="4.05"/><circle cx="751.2" cy="421.5" r="4.05"/><circle cx="747.4" cy="436.7" r="4.05"/><circle cx="747.4" cy="441.8" r="4.05"/><circle cx="751.2" cy="432.3" r="4.05"/><circle cx="755" cy="424" r="4.05"/><circle cx="755" cy="438" r="4.05"/><circle cx="755" cy="454.5" r="4.05"/><circle cx="755" cy="465.9" r="4.05"/><circle cx="762.9" cy="469.7" r="4.05"/><circle cx="708.7" cy="439.9" r="4.05"/><circle cx="716.3" cy="442.4" r="4.05"/><circle cx="716.3" cy="449.4" r="4.05"/><circle cx="770.9" cy="437.3" r="4.05"/><circle cx="770.9" cy="443.1" r="4.05"/><circle cx="775.1" cy="446.2" r="4.05"/><circle cx="770.9" cy="458.9" r="4.05"/><circle cx="786.5" cy="422.8" r="4.05"/><circle cx="786.5" cy="428.5" r="4.05"/><circle cx="786.5" cy="455.1" r="4.05"/><circle cx="797.9" cy="424" r="4.05"/><circle cx="797.9" cy="433.5" r="4.05"/><circle cx="802" cy="444.3" r="4.05"/><circle cx="802" cy="465.6" r="4.05"/><circle cx="801.9" cy="447.1" r="4.05"/><circle cx="809.8" cy="420.1" r="4.05"/><circle cx="809.8" cy="424.1" r="4.05"/><circle cx="817.7" cy="409" r="4.05"/><circle cx="817.7" cy="417" r="4.05"/><circle cx="817.7" cy="423.3" r="4.05"/><circle cx="817.7" cy="438.4" r="4.05"/><circle cx="817.7" cy="442.3" r="4.05"/><circle cx="833.1" cy="424.9" r="4.05"/><circle cx="833.1" cy="432" r="4.05"/><circle cx="833.1" cy="436" r="4.05"/><circle cx="833.1" cy="440.7" r="4.05"/><circle cx="833.1" cy="475.6" r="4.05"/><circle cx="848.7" cy="416.2" r="4.05"/><circle cx="848.7" cy="421.7" r="4.05"/><circle cx="848.7" cy="427.3" r="4.05"/><circle cx="844.7" cy="432" r="4.05"/><circle cx="844.7" cy="437.6" r="4.05"/><circle cx="848.7" cy="441.5" r="4.05"/><circle cx="864.2" cy="428.1" r="4.05"/><circle cx="864.2" cy="443.9" r="4.05"/><circle cx="864.2" cy="457.4" r="4.05"/><circle cx="879.6" cy="436.8" r="4.05"/><circle cx="895.4" cy="443.9" r="4.05"/><circle cx="910.8" cy="434.9" r="4.05"/></g>
<text x="2" y="34" font-size="37" font-weight="bold">a</text>
<text x="2" y="609" font-size="37" font-weight="bold">b</text>
<text x="208.3" y="33.6" font-size="23" text-anchor="middle" fill="#000" font-weight="normal" >0–7 Days</text>
<text x="511.4" y="33.6" font-size="23" text-anchor="middle" fill="#000" font-weight="normal" >20–28 Days</text>
<text x="806.7" y="33.6" font-size="23" text-anchor="middle" fill="#000" font-weight="normal" >Adult</text>
<text x="87.0" y="59.6" font-size="23.5" text-anchor="start" fill="#000" font-weight="normal" font-style="italic" >PP</text>
<text x="87.0" y="303.2" font-size="23.5" text-anchor="start" fill="#000" font-weight="normal" font-style="italic" >CP</text>
<text transform="translate(20,288) rotate(-90)" font-size="23.3" text-anchor="middle">Characteristic delay (CD) level (dB SPL)</text>
<text x="510.7" y="552.1" font-size="23.3" text-anchor="middle" fill="#000" font-weight="normal" >Characteristic delay (CD) (ms)</text>
<line x1="135.65" y1="674.70" x2="135.65" y2="726.20" stroke="#000" stroke-width="2" stroke-linecap="butt"/>
<line x1="135.65" y1="748.50" x2="135.65" y2="770.00" stroke="#000" stroke-width="2" stroke-linecap="butt"/>
<line x1="126.65" y1="674.70" x2="144.65" y2="674.70" stroke="#000" stroke-width="2" stroke-linecap="butt"/>
<line x1="126.65" y1="770.00" x2="144.65" y2="770.00" stroke="#000" stroke-width="2" stroke-linecap="butt"/>
<rect x="123.10" y="726.80" width="25.10" height="21.10" fill="#ca2229" stroke="#1a1a1a" stroke-width="1.3" rx="1"/>
<line x1="123.50" y1="743.20" x2="147.80" y2="743.20" stroke="#000" stroke-width="2.2" stroke-linecap="butt"/>
<line x1="124.00" y1="734.20" x2="147.30" y2="734.20" stroke="#fff" stroke-width="1.6" stroke-linecap="butt"/>
<line x1="166.50" y1="676.40" x2="166.50" y2="688.50" stroke="#000" stroke-width="2" stroke-linecap="butt"/>
<line x1="166.50" y1="751.30" x2="166.50" y2="783.70" stroke="#000" stroke-width="2" stroke-linecap="butt"/>
<line x1="157.50" y1="676.40" x2="175.50" y2="676.40" stroke="#000" stroke-width="2" stroke-linecap="butt"/>
<line x1="157.50" y1="783.70" x2="175.50" y2="783.70" stroke="#000" stroke-width="2" stroke-linecap="butt"/>
<rect x="154.00" y="689.10" width="25.00" height="61.60" fill="#888888" stroke="#1a1a1a" stroke-width="1.3" rx="1"/>
<line x1="154.40" y1="740.50" x2="178.60" y2="740.50" stroke="#000" stroke-width="2.2" stroke-linecap="butt"/>
<line x1="154.90" y1="731.80" x2="178.10" y2="731.80" stroke="#fff" stroke-width="1.6" stroke-linecap="butt"/>
<line x1="197.10" y1="654.20" x2="197.10" y2="673.00" stroke="#000" stroke-width="2" stroke-linecap="butt"/>
<line x1="197.10" y1="758.20" x2="197.10" y2="777.10" stroke="#000" stroke-width="2" stroke-linecap="butt"/>
<line x1="188.10" y1="654.20" x2="206.10" y2="654.20" stroke="#000" stroke-width="2" stroke-linecap="butt"/>
<line x1="188.10" y1="777.10" x2="206.10" y2="777.10" stroke="#000" stroke-width="2" stroke-linecap="butt"/>
<rect x="184.90" y="673.60" width="24.40" height="84.00" fill="#31909a" stroke="#1a1a1a" stroke-width="1.3" rx="1"/>
<line x1="185.30" y1="734.80" x2="208.90" y2="734.80" stroke="#000" stroke-width="2.2" stroke-linecap="butt"/>
<line x1="185.80" y1="723.30" x2="208.40" y2="723.30" stroke="#fff" stroke-width="1.6" stroke-linecap="butt"/>
<line x1="258.85" y1="704.70" x2="258.85" y2="741.60" stroke="#000" stroke-width="2" stroke-linecap="butt"/>
<line x1="258.85" y1="812.10" x2="258.85" y2="831.90" stroke="#000" stroke-width="2" stroke-linecap="butt"/>
<line x1="249.85" y1="704.70" x2="267.85" y2="704.70" stroke="#000" stroke-width="2" stroke-linecap="butt"/>
<line x1="249.85" y1="831.90" x2="267.85" y2="831.90" stroke="#000" stroke-width="2" stroke-linecap="butt"/>
<rect x="246.40" y="742.20" width="24.90" height="69.30" fill="#ca2229" stroke="#1a1a1a" stroke-width="1.3" rx="1"/>
<line x1="246.80" y1="780.50" x2="270.90" y2="780.50" stroke="#000" stroke-width="2.2" stroke-linecap="butt"/>
<line x1="247.30" y1="776.70" x2="270.40" y2="776.70" stroke="#fff" stroke-width="1.6" stroke-linecap="butt"/>
<line x1="289.40" y1="700.90" x2="289.40" y2="722.10" stroke="#000" stroke-width="2" stroke-linecap="butt"/>
<line x1="289.40" y1="807.90" x2="289.40" y2="831.90" stroke="#000" stroke-width="2" stroke-linecap="butt"/>
<line x1="280.40" y1="700.90" x2="298.40" y2="700.90" stroke="#000" stroke-width="2" stroke-linecap="butt"/>
<line x1="280.40" y1="831.90" x2="298.40" y2="831.90" stroke="#000" stroke-width="2" stroke-linecap="butt"/>
<rect x="277.10" y="722.70" width="24.60" height="84.60" fill="#888888" stroke="#1a1a1a" stroke-width="1.3" rx="1"/>
<line x1="277.50" y1="764.60" x2="301.30" y2="764.60" stroke="#000" stroke-width="2.2" stroke-linecap="butt"/>
<line x1="278.00" y1="766.60" x2="300.80" y2="766.60" stroke="#fff" stroke-width="1.6" stroke-linecap="butt"/>
<line x1="320.45" y1="735.80" x2="320.45" y2="765.10" stroke="#000" stroke-width="2" stroke-linecap="butt"/>
<line x1="320.45" y1="826.00" x2="320.45" y2="837.20" stroke="#000" stroke-width="2" stroke-linecap="butt"/>
<line x1="311.45" y1="735.80" x2="329.45" y2="735.80" stroke="#000" stroke-width="2" stroke-linecap="butt"/>
<line x1="311.45" y1="837.20" x2="329.45" y2="837.20" stroke="#000" stroke-width="2" stroke-linecap="butt"/>
<rect x="308.00" y="765.70" width="24.90" height="59.70" fill="#31909a" stroke="#1a1a1a" stroke-width="1.3" rx="1"/>
<line x1="308.40" y1="800.50" x2="332.50" y2="800.50" stroke="#000" stroke-width="2.2" stroke-linecap="butt"/>
<line x1="308.90" y1="792.80" x2="332.00" y2="792.80" stroke="#fff" stroke-width="1.6" stroke-linecap="butt"/>
<line x1="381.65" y1="740.50" x2="381.65" y2="758.20" stroke="#000" stroke-width="2" stroke-linecap="butt"/>
<line x1="381.65" y1="816.70" x2="381.65" y2="838.40" stroke="#000" stroke-width="2" stroke-linecap="butt"/>
<line x1="372.65" y1="740.50" x2="390.65" y2="740.50" stroke="#000" stroke-width="2" stroke-linecap="butt"/>
<line x1="372.65" y1="838.40" x2="390.65" y2="838.40" stroke="#000" stroke-width="2" stroke-linecap="butt"/>
<rect x="369.20" y="758.80" width="24.90" height="57.30" fill="#ca2229" stroke="#1a1a1a" stroke-width="1.3" rx="1"/>
<line x1="369.60" y1="783.00" x2="393.70" y2="783.00" stroke="#000" stroke-width="2.2" stroke-linecap="butt"/>
<line x1="370.10" y1="787.80" x2="393.20" y2="787.80" stroke="#fff" stroke-width="1.6" stroke-linecap="butt"/>
<line x1="412.50" y1="747.00" x2="412.50" y2="771.80" stroke="#000" stroke-width="2" stroke-linecap="butt"/>
<line x1="412.50" y1="849.00" x2="412.50" y2="871.40" stroke="#000" stroke-width="2" stroke-linecap="butt"/>
<line x1="403.50" y1="747.00" x2="421.50" y2="747.00" stroke="#000" stroke-width="2" stroke-linecap="butt"/>
<line x1="403.50" y1="871.40" x2="421.50" y2="871.40" stroke="#000" stroke-width="2" stroke-linecap="butt"/>
<rect x="400.20" y="772.40" width="24.60" height="76.00" fill="#888888" stroke="#1a1a1a" stroke-width="1.3" rx="1"/>
<line x1="400.60" y1="818.00" x2="424.40" y2="818.00" stroke="#000" stroke-width="2.2" stroke-linecap="butt"/>
<line x1="401.10" y1="813.10" x2="423.90" y2="813.10" stroke="#fff" stroke-width="1.6" stroke-linecap="butt"/>
<line x1="443.30" y1="725.50" x2="443.30" y2="734.70" stroke="#000" stroke-width="2" stroke-linecap="butt"/>
<line x1="443.30" y1="845.50" x2="443.30" y2="875.40" stroke="#000" stroke-width="2" stroke-linecap="butt"/>
<line x1="434.30" y1="725.50" x2="452.30" y2="725.50" stroke="#000" stroke-width="2" stroke-linecap="butt"/>
<line x1="434.30" y1="875.40" x2="452.30" y2="875.40" stroke="#000" stroke-width="2" stroke-linecap="butt"/>
<rect x="431.40" y="735.30" width="23.80" height="109.60" fill="#31909a" stroke="#1a1a1a" stroke-width="1.3" rx="1"/>
<line x1="431.80" y1="777.70" x2="454.80" y2="777.70" stroke="#000" stroke-width="2.2" stroke-linecap="butt"/>
<line x1="432.30" y1="790.80" x2="454.30" y2="790.80" stroke="#fff" stroke-width="1.6" stroke-linecap="butt"/>
<line x1="606.85" y1="718.70" x2="606.85" y2="789.40" stroke="#000" stroke-width="2" stroke-linecap="butt"/>
<line x1="606.85" y1="845.20" x2="606.85" y2="867.80" stroke="#000" stroke-width="2" stroke-linecap="butt"/>
<line x1="597.85" y1="718.70" x2="615.85" y2="718.70" stroke="#000" stroke-width="2" stroke-linecap="butt"/>
<line x1="597.85" y1="867.80" x2="615.85" y2="867.80" stroke="#000" stroke-width="2" stroke-linecap="butt"/>
<rect x="594.80" y="790.00" width="24.10" height="54.60" fill="#ca2229" stroke="#1a1a1a" stroke-width="1.3" rx="1"/>
<line x1="595.20" y1="828.90" x2="618.50" y2="828.90" stroke="#000" stroke-width="2.2" stroke-linecap="butt"/>
<line x1="595.70" y1="812.30" x2="618.00" y2="812.30" stroke="#fff" stroke-width="1.6" stroke-linecap="butt"/>
<line x1="637.70" y1="708.90" x2="637.70" y2="786.20" stroke="#000" stroke-width="2" stroke-linecap="butt"/>
<line x1="637.70" y1="845.20" x2="637.70" y2="865.30" stroke="#000" stroke-width="2" stroke-linecap="butt"/>
<line x1="628.70" y1="708.90" x2="646.70" y2="708.90" stroke="#000" stroke-width="2" stroke-linecap="butt"/>
<line x1="628.70" y1="865.30" x2="646.70" y2="865.30" stroke="#000" stroke-width="2" stroke-linecap="butt"/>
<rect x="625.30" y="786.80" width="24.80" height="57.80" fill="#888888" stroke="#1a1a1a" stroke-width="1.3" rx="1"/>
<line x1="625.70" y1="809.60" x2="649.70" y2="809.60" stroke="#000" stroke-width="2.2" stroke-linecap="butt"/>
<line x1="626.20" y1="802.80" x2="649.20" y2="802.80" stroke="#fff" stroke-width="1.6" stroke-linecap="butt"/>
<line x1="668.55" y1="700.10" x2="668.55" y2="730.10" stroke="#000" stroke-width="2" stroke-linecap="butt"/>
<line x1="668.55" y1="821.50" x2="668.55" y2="837.30" stroke="#000" stroke-width="2" stroke-linecap="butt"/>
<line x1="659.55" y1="700.10" x2="677.55" y2="700.10" stroke="#000" stroke-width="2" stroke-linecap="butt"/>
<line x1="659.55" y1="837.30" x2="677.55" y2="837.30" stroke="#000" stroke-width="2" stroke-linecap="butt"/>
<rect x="656.20" y="730.70" width="24.70" height="90.20" fill="#31909a" stroke="#1a1a1a" stroke-width="1.3" rx="1"/>
<line x1="656.60" y1="784.70" x2="680.50" y2="784.70" stroke="#000" stroke-width="2.2" stroke-linecap="butt"/>
<line x1="657.10" y1="774.90" x2="680.00" y2="774.90" stroke="#fff" stroke-width="1.6" stroke-linecap="butt"/>
<line x1="729.80" y1="800.70" x2="729.80" y2="839.60" stroke="#000" stroke-width="2" stroke-linecap="butt"/>
<line x1="729.80" y1="866.60" x2="729.80" y2="877.30" stroke="#000" stroke-width="2" stroke-linecap="butt"/>
<line x1="720.80" y1="800.70" x2="738.80" y2="800.70" stroke="#000" stroke-width="2" stroke-linecap="butt"/>
<line x1="720.80" y1="877.30" x2="738.80" y2="877.30" stroke="#000" stroke-width="2" stroke-linecap="butt"/>
<rect x="717.40" y="840.20" width="24.80" height="25.80" fill="#ca2229" stroke="#1a1a1a" stroke-width="1.3" rx="1"/>
<line x1="717.80" y1="856.60" x2="741.80" y2="856.60" stroke="#000" stroke-width="2.2" stroke-linecap="butt"/>
<line x1="718.30" y1="846.40" x2="741.30" y2="846.40" stroke="#fff" stroke-width="1.6" stroke-linecap="butt"/>
<line x1="760.70" y1="759.40" x2="760.70" y2="792.20" stroke="#000" stroke-width="2" stroke-linecap="butt"/>
<line x1="760.70" y1="847.20" x2="760.70" y2="861.70" stroke="#000" stroke-width="2" stroke-linecap="butt"/>
<line x1="751.70" y1="759.40" x2="769.70" y2="759.40" stroke="#000" stroke-width="2" stroke-linecap="butt"/>
<line x1="751.70" y1="861.70" x2="769.70" y2="861.70" stroke="#000" stroke-width="2" stroke-linecap="butt"/>
<rect x="748.30" y="792.80" width="24.80" height="53.80" fill="#888888" stroke="#1a1a1a" stroke-width="1.3" rx="1"/>
<line x1="748.70" y1="825.80" x2="772.70" y2="825.80" stroke="#000" stroke-width="2.2" stroke-linecap="butt"/>
<line x1="749.20" y1="816.80" x2="772.20" y2="816.80" stroke="#fff" stroke-width="1.6" stroke-linecap="butt"/>
<line x1="791.45" y1="737.50" x2="791.45" y2="758.90" stroke="#000" stroke-width="2" stroke-linecap="butt"/>
<line x1="791.45" y1="844.70" x2="791.45" y2="865.20" stroke="#000" stroke-width="2" stroke-linecap="butt"/>
<line x1="782.45" y1="737.50" x2="800.45" y2="737.50" stroke="#000" stroke-width="2" stroke-linecap="butt"/>
<line x1="782.45" y1="865.20" x2="800.45" y2="865.20" stroke="#000" stroke-width="2" stroke-linecap="butt"/>
<rect x="779.20" y="759.50" width="24.50" height="84.60" fill="#31909a" stroke="#1a1a1a" stroke-width="1.3" rx="1"/>
<line x1="779.60" y1="785.60" x2="803.30" y2="785.60" stroke="#000" stroke-width="2.2" stroke-linecap="butt"/>
<line x1="780.10" y1="792.90" x2="802.80" y2="792.90" stroke="#fff" stroke-width="1.6" stroke-linecap="butt"/>
<line x1="852.85" y1="833.70" x2="852.85" y2="847.40" stroke="#000" stroke-width="2" stroke-linecap="butt"/>
<line x1="852.85" y1="869.40" x2="852.85" y2="874.70" stroke="#000" stroke-width="2" stroke-linecap="butt"/>
<line x1="843.85" y1="833.70" x2="861.85" y2="833.70" stroke="#000" stroke-width="2" stroke-linecap="butt"/>
<line x1="843.85" y1="874.70" x2="861.85" y2="874.70" stroke="#000" stroke-width="2" stroke-linecap="butt"/>
<rect x="840.70" y="848.00" width="24.30" height="20.80" fill="#ca2229" stroke="#1a1a1a" stroke-width="1.3" rx="1"/>
<line x1="841.10" y1="858.80" x2="864.60" y2="858.80" stroke="#000" stroke-width="2.2" stroke-linecap="butt"/>
<line x1="841.60" y1="856.50" x2="864.10" y2="856.50" stroke="#fff" stroke-width="1.6" stroke-linecap="butt"/>
<line x1="883.85" y1="792.20" x2="883.85" y2="804.40" stroke="#000" stroke-width="2" stroke-linecap="butt"/>
<line x1="883.85" y1="862.20" x2="883.85" y2="868.80" stroke="#000" stroke-width="2" stroke-linecap="butt"/>
<line x1="874.85" y1="792.20" x2="892.85" y2="792.20" stroke="#000" stroke-width="2" stroke-linecap="butt"/>
<line x1="874.85" y1="868.80" x2="892.85" y2="868.80" stroke="#000" stroke-width="2" stroke-linecap="butt"/>
<rect x="871.60" y="805.00" width="24.50" height="56.60" fill="#888888" stroke="#1a1a1a" stroke-width="1.3" rx="1"/>
<line x1="872.00" y1="837.90" x2="895.70" y2="837.90" stroke="#000" stroke-width="2.2" stroke-linecap="butt"/>
<line x1="872.50" y1="832.30" x2="895.20" y2="832.30" stroke="#fff" stroke-width="1.6" stroke-linecap="butt"/>
<line x1="914.60" y1="731.40" x2="914.60" y2="757.00" stroke="#000" stroke-width="2" stroke-linecap="butt"/>
<line x1="914.60" y1="835.00" x2="914.60" y2="853.20" stroke="#000" stroke-width="2" stroke-linecap="butt"/>
<line x1="905.60" y1="731.40" x2="923.60" y2="731.40" stroke="#000" stroke-width="2" stroke-linecap="butt"/>
<line x1="905.60" y1="853.20" x2="923.60" y2="853.20" stroke="#000" stroke-width="2" stroke-linecap="butt"/>
<rect x="902.70" y="757.60" width="23.80" height="76.80" fill="#31909a" stroke="#1a1a1a" stroke-width="1.3" rx="1"/>
<line x1="903.10" y1="814.80" x2="926.10" y2="814.80" stroke="#000" stroke-width="2.2" stroke-linecap="butt"/>
<line x1="903.60" y1="802.20" x2="925.60" y2="802.20" stroke="#fff" stroke-width="1.6" stroke-linecap="butt"/>
<line x1="134.70" y1="1052.70" x2="134.70" y2="1065.60" stroke="#000" stroke-width="2" stroke-linecap="butt"/>
<line x1="134.70" y1="1135.40" x2="134.70" y2="1187.20" stroke="#000" stroke-width="2" stroke-linecap="butt"/>
<line x1="125.70" y1="1052.70" x2="143.70" y2="1052.70" stroke="#000" stroke-width="2" stroke-linecap="butt"/>
<line x1="125.70" y1="1187.20" x2="143.70" y2="1187.20" stroke="#000" stroke-width="2" stroke-linecap="butt"/>
<rect x="122.50" y="1066.20" width="24.40" height="68.60" fill="#ca2229" stroke="#1a1a1a" stroke-width="1.3" rx="1"/>
<line x1="122.90" y1="1092.80" x2="146.50" y2="1092.80" stroke="#000" stroke-width="2.2" stroke-linecap="butt"/>
<line x1="123.40" y1="1104.90" x2="146.00" y2="1104.90" stroke="#fff" stroke-width="1.6" stroke-linecap="butt"/>
<line x1="165.40" y1="1088.90" x2="165.40" y2="1098.80" stroke="#000" stroke-width="2" stroke-linecap="butt"/>
<line x1="165.40" y1="1171.50" x2="165.40" y2="1197.40" stroke="#000" stroke-width="2" stroke-linecap="butt"/>
<line x1="156.40" y1="1088.90" x2="174.40" y2="1088.90" stroke="#000" stroke-width="2" stroke-linecap="butt"/>
<line x1="156.40" y1="1197.40" x2="174.40" y2="1197.40" stroke="#000" stroke-width="2" stroke-linecap="butt"/>
<rect x="153.30" y="1099.40" width="24.20" height="71.50" fill="#888888" stroke="#1a1a1a" stroke-width="1.3" rx="1"/>
<line x1="153.70" y1="1136.70" x2="177.10" y2="1136.70" stroke="#000" stroke-width="2.2" stroke-linecap="butt"/>
<line x1="154.20" y1="1138.90" x2="176.60" y2="1138.90" stroke="#fff" stroke-width="1.6" stroke-linecap="butt"/>
<line x1="196.20" y1="1091.70" x2="196.20" y2="1124.10" stroke="#000" stroke-width="2" stroke-linecap="butt"/>
<line x1="196.20" y1="1191.90" x2="196.20" y2="1200.70" stroke="#000" stroke-width="2" stroke-linecap="butt"/>
<line x1="187.20" y1="1091.70" x2="205.20" y2="1091.70" stroke="#000" stroke-width="2" stroke-linecap="butt"/>
<line x1="187.20" y1="1200.70" x2="205.20" y2="1200.70" stroke="#000" stroke-width="2" stroke-linecap="butt"/>
<rect x="184.10" y="1124.70" width="24.20" height="66.60" fill="#31909a" stroke="#1a1a1a" stroke-width="1.3" rx="1"/>
<line x1="184.50" y1="1163.80" x2="207.90" y2="1163.80" stroke="#000" stroke-width="2.2" stroke-linecap="butt"/>
<line x1="185.00" y1="1155.50" x2="207.40" y2="1155.50" stroke="#fff" stroke-width="1.6" stroke-linecap="butt"/>
<line x1="257.95" y1="1102.60" x2="257.95" y2="1139.40" stroke="#000" stroke-width="2" stroke-linecap="butt"/>
<line x1="257.95" y1="1187.30" x2="257.95" y2="1215.70" stroke="#000" stroke-width="2" stroke-linecap="butt"/>
<line x1="248.95" y1="1102.60" x2="266.95" y2="1102.60" stroke="#000" stroke-width="2" stroke-linecap="butt"/>
<line x1="248.95" y1="1215.70" x2="266.95" y2="1215.70" stroke="#000" stroke-width="2" stroke-linecap="butt"/>
<rect x="245.80" y="1140.00" width="24.30" height="46.70" fill="#ca2229" stroke="#1a1a1a" stroke-width="1.3" rx="1"/>
<line x1="246.20" y1="1162.50" x2="269.70" y2="1162.50" stroke="#000" stroke-width="2.2" stroke-linecap="butt"/>
<line x1="246.70" y1="1160.00" x2="269.20" y2="1160.00" stroke="#fff" stroke-width="1.6" stroke-linecap="butt"/>
<line x1="288.45" y1="1124.00" x2="288.45" y2="1141.50" stroke="#000" stroke-width="2" stroke-linecap="butt"/>
<line x1="288.45" y1="1195.00" x2="288.45" y2="1226.60" stroke="#000" stroke-width="2" stroke-linecap="butt"/>
<line x1="279.45" y1="1124.00" x2="297.45" y2="1124.00" stroke="#000" stroke-width="2" stroke-linecap="butt"/>
<line x1="279.45" y1="1226.60" x2="297.45" y2="1226.60" stroke="#000" stroke-width="2" stroke-linecap="butt"/>
<rect x="276.40" y="1142.10" width="24.10" height="52.30" fill="#888888" stroke="#1a1a1a" stroke-width="1.3" rx="1"/>
<line x1="276.80" y1="1164.20" x2="300.10" y2="1164.20" stroke="#000" stroke-width="2.2" stroke-linecap="butt"/>
<line x1="277.30" y1="1169.00" x2="299.60" y2="1169.00" stroke="#fff" stroke-width="1.6" stroke-linecap="butt"/>
<line x1="319.50" y1="1123.30" x2="319.50" y2="1154.40" stroke="#000" stroke-width="2" stroke-linecap="butt"/>
<line x1="319.50" y1="1202.30" x2="319.50" y2="1219.30" stroke="#000" stroke-width="2" stroke-linecap="butt"/>
<line x1="310.50" y1="1123.30" x2="328.50" y2="1123.30" stroke="#000" stroke-width="2" stroke-linecap="butt"/>
<line x1="310.50" y1="1219.30" x2="328.50" y2="1219.30" stroke="#000" stroke-width="2" stroke-linecap="butt"/>
<rect x="307.30" y="1155.00" width="24.40" height="46.70" fill="#31909a" stroke="#1a1a1a" stroke-width="1.3" rx="1"/>
<line x1="307.70" y1="1182.40" x2="331.30" y2="1182.40" stroke="#000" stroke-width="2.2" stroke-linecap="butt"/>
<line x1="308.20" y1="1176.80" x2="330.80" y2="1176.80" stroke="#fff" stroke-width="1.6" stroke-linecap="butt"/>
<line x1="380.85" y1="1161.20" x2="380.85" y2="1166.60" stroke="#000" stroke-width="2" stroke-linecap="butt"/>
<line x1="380.85" y1="1215.20" x2="380.85" y2="1231.50" stroke="#000" stroke-width="2" stroke-linecap="butt"/>
<line x1="371.85" y1="1161.20" x2="389.85" y2="1161.20" stroke="#000" stroke-width="2" stroke-linecap="butt"/>
<line x1="371.85" y1="1231.50" x2="389.85" y2="1231.50" stroke="#000" stroke-width="2" stroke-linecap="butt"/>
<rect x="368.80" y="1167.20" width="24.10" height="47.40" fill="#ca2229" stroke="#1a1a1a" stroke-width="1.3" rx="1"/>
<line x1="369.20" y1="1182.90" x2="392.50" y2="1182.90" stroke="#000" stroke-width="2.2" stroke-linecap="butt"/>
<line x1="369.70" y1="1189.70" x2="392.00" y2="1189.70" stroke="#fff" stroke-width="1.6" stroke-linecap="butt"/>
<line x1="411.50" y1="1158.80" x2="411.50" y2="1171.40" stroke="#000" stroke-width="2" stroke-linecap="butt"/>
<line x1="411.50" y1="1210.80" x2="411.50" y2="1229.80" stroke="#000" stroke-width="2" stroke-linecap="butt"/>
<line x1="402.50" y1="1158.80" x2="420.50" y2="1158.80" stroke="#000" stroke-width="2" stroke-linecap="butt"/>
<line x1="402.50" y1="1229.80" x2="420.50" y2="1229.80" stroke="#000" stroke-width="2" stroke-linecap="butt"/>
<rect x="399.70" y="1172.00" width="23.60" height="38.20" fill="#888888" stroke="#1a1a1a" stroke-width="1.3" rx="1"/>
<line x1="400.10" y1="1197.50" x2="422.90" y2="1197.50" stroke="#000" stroke-width="2.2" stroke-linecap="butt"/>
<line x1="400.60" y1="1195.00" x2="422.40" y2="1195.00" stroke="#fff" stroke-width="1.6" stroke-linecap="butt"/>
<line x1="442.50" y1="1178.70" x2="442.50" y2="1199.90" stroke="#000" stroke-width="2" stroke-linecap="butt"/>
<line x1="442.50" y1="1230.30" x2="442.50" y2="1238.80" stroke="#000" stroke-width="2" stroke-linecap="butt"/>
<line x1="433.50" y1="1178.70" x2="451.50" y2="1178.70" stroke="#000" stroke-width="2" stroke-linecap="butt"/>
<line x1="433.50" y1="1238.80" x2="451.50" y2="1238.80" stroke="#000" stroke-width="2" stroke-linecap="butt"/>
<rect x="430.60" y="1200.50" width="23.80" height="29.20" fill="#31909a" stroke="#1a1a1a" stroke-width="1.3" rx="1"/>
<line x1="431.50" y1="1213.50" x2="453.50" y2="1213.50" stroke="#fff" stroke-width="1.6" stroke-linecap="butt"/>
<line x1="606.30" y1="1178.40" x2="606.30" y2="1231.60" stroke="#000" stroke-width="2" stroke-linecap="butt"/>
<line x1="606.30" y1="1247.20" x2="606.30" y2="1261.20" stroke="#000" stroke-width="2" stroke-linecap="butt"/>
<line x1="597.30" y1="1178.40" x2="615.30" y2="1178.40" stroke="#000" stroke-width="2" stroke-linecap="butt"/>
<line x1="597.30" y1="1261.20" x2="615.30" y2="1261.20" stroke="#000" stroke-width="2" stroke-linecap="butt"/>
<rect x="594.20" y="1232.20" width="24.20" height="14.40" fill="#ca2229" stroke="#1a1a1a" stroke-width="1.3" rx="1"/>
<line x1="594.60" y1="1242.80" x2="618.00" y2="1242.80" stroke="#000" stroke-width="2.2" stroke-linecap="butt"/>
<line x1="595.10" y1="1234.80" x2="617.50" y2="1234.80" stroke="#fff" stroke-width="1.6" stroke-linecap="butt"/>
<line x1="637.15" y1="1147.90" x2="637.15" y2="1196.70" stroke="#000" stroke-width="2" stroke-linecap="butt"/>
<line x1="637.15" y1="1254.20" x2="637.15" y2="1263.10" stroke="#000" stroke-width="2" stroke-linecap="butt"/>
<line x1="628.15" y1="1147.90" x2="646.15" y2="1147.90" stroke="#000" stroke-width="2" stroke-linecap="butt"/>
<line x1="628.15" y1="1263.10" x2="646.15" y2="1263.10" stroke="#000" stroke-width="2" stroke-linecap="butt"/>
<rect x="625.20" y="1197.30" width="23.90" height="56.30" fill="#888888" stroke="#1a1a1a" stroke-width="1.3" rx="1"/>
<line x1="625.60" y1="1230.70" x2="648.70" y2="1230.70" stroke="#000" stroke-width="2.2" stroke-linecap="butt"/>
<line x1="626.10" y1="1221.50" x2="648.20" y2="1221.50" stroke="#fff" stroke-width="1.6" stroke-linecap="butt"/>
<line x1="667.90" y1="1133.70" x2="667.90" y2="1159.30" stroke="#000" stroke-width="2" stroke-linecap="butt"/>
<line x1="667.90" y1="1220.50" x2="667.90" y2="1253.80" stroke="#000" stroke-width="2" stroke-linecap="butt"/>
<line x1="658.90" y1="1133.70" x2="676.90" y2="1133.70" stroke="#000" stroke-width="2" stroke-linecap="butt"/>
<line x1="658.90" y1="1253.80" x2="676.90" y2="1253.80" stroke="#000" stroke-width="2" stroke-linecap="butt"/>
<rect x="656.00" y="1159.90" width="23.80" height="60.00" fill="#31909a" stroke="#1a1a1a" stroke-width="1.3" rx="1"/>
<line x1="656.40" y1="1191.40" x2="679.40" y2="1191.40" stroke="#000" stroke-width="2.2" stroke-linecap="butt"/>
<line x1="656.90" y1="1190.20" x2="678.90" y2="1190.20" stroke="#fff" stroke-width="1.6" stroke-linecap="butt"/>
<line x1="729.45" y1="1229.10" x2="729.45" y2="1236.40" stroke="#000" stroke-width="2" stroke-linecap="butt"/>
<line x1="729.45" y1="1254.80" x2="729.45" y2="1259.50" stroke="#000" stroke-width="2" stroke-linecap="butt"/>
<line x1="720.45" y1="1229.10" x2="738.45" y2="1229.10" stroke="#000" stroke-width="2" stroke-linecap="butt"/>
<line x1="720.45" y1="1259.50" x2="738.45" y2="1259.50" stroke="#000" stroke-width="2" stroke-linecap="butt"/>
<rect x="717.40" y="1237.00" width="24.10" height="17.20" fill="#ca2229" stroke="#1a1a1a" stroke-width="1.3" rx="1"/>
<line x1="717.80" y1="1244.40" x2="741.10" y2="1244.40" stroke="#000" stroke-width="2.2" stroke-linecap="butt"/>
<line x1="718.30" y1="1241.20" x2="740.60" y2="1241.20" stroke="#fff" stroke-width="1.6" stroke-linecap="butt"/>
<line x1="760.20" y1="1195.30" x2="760.20" y2="1214.00" stroke="#000" stroke-width="2" stroke-linecap="butt"/>
<line x1="760.20" y1="1242.70" x2="760.20" y2="1254.10" stroke="#000" stroke-width="2" stroke-linecap="butt"/>
<line x1="751.20" y1="1195.30" x2="769.20" y2="1195.30" stroke="#000" stroke-width="2" stroke-linecap="butt"/>
<line x1="751.20" y1="1254.10" x2="769.20" y2="1254.10" stroke="#000" stroke-width="2" stroke-linecap="butt"/>
<rect x="748.30" y="1214.60" width="23.80" height="27.50" fill="#888888" stroke="#1a1a1a" stroke-width="1.3" rx="1"/>
<line x1="748.70" y1="1226.60" x2="771.70" y2="1226.60" stroke="#000" stroke-width="2.2" stroke-linecap="butt"/>
<line x1="749.20" y1="1225.70" x2="771.20" y2="1225.70" stroke="#fff" stroke-width="1.6" stroke-linecap="butt"/>
<line x1="791.10" y1="1105.30" x2="791.10" y2="1156.90" stroke="#000" stroke-width="2" stroke-linecap="butt"/>
<line x1="791.10" y1="1227.40" x2="791.10" y2="1243.70" stroke="#000" stroke-width="2" stroke-linecap="butt"/>
<line x1="782.10" y1="1105.30" x2="800.10" y2="1105.30" stroke="#000" stroke-width="2" stroke-linecap="butt"/>
<line x1="782.10" y1="1243.70" x2="800.10" y2="1243.70" stroke="#000" stroke-width="2" stroke-linecap="butt"/>
<rect x="779.20" y="1157.50" width="23.80" height="69.30" fill="#31909a" stroke="#1a1a1a" stroke-width="1.3" rx="1"/>
<line x1="779.60" y1="1208.60" x2="802.60" y2="1208.60" stroke="#000" stroke-width="2.2" stroke-linecap="butt"/>
<line x1="780.10" y1="1189.00" x2="802.10" y2="1189.00" stroke="#fff" stroke-width="1.6" stroke-linecap="butt"/>
<line x1="852.25" y1="1201.40" x2="852.25" y2="1216.40" stroke="#000" stroke-width="2" stroke-linecap="butt"/>
<line x1="852.25" y1="1246.80" x2="852.25" y2="1254.10" stroke="#000" stroke-width="2" stroke-linecap="butt"/>
<line x1="843.25" y1="1201.40" x2="861.25" y2="1201.40" stroke="#000" stroke-width="2" stroke-linecap="butt"/>
<line x1="843.25" y1="1254.10" x2="861.25" y2="1254.10" stroke="#000" stroke-width="2" stroke-linecap="butt"/>
<rect x="840.20" y="1217.00" width="24.10" height="29.20" fill="#ca2229" stroke="#1a1a1a" stroke-width="1.3" rx="1"/>
<line x1="840.60" y1="1235.40" x2="863.90" y2="1235.40" stroke="#000" stroke-width="2.2" stroke-linecap="butt"/>
<line x1="841.10" y1="1231.70" x2="863.40" y2="1231.70" stroke="#fff" stroke-width="1.6" stroke-linecap="butt"/>
<line x1="883.00" y1="1154.40" x2="883.00" y2="1197.00" stroke="#000" stroke-width="2" stroke-linecap="butt"/>
<line x1="883.00" y1="1234.70" x2="883.00" y2="1246.80" stroke="#000" stroke-width="2" stroke-linecap="butt"/>
<line x1="874.00" y1="1154.40" x2="892.00" y2="1154.40" stroke="#000" stroke-width="2" stroke-linecap="butt"/>
<line x1="874.00" y1="1246.80" x2="892.00" y2="1246.80" stroke="#000" stroke-width="2" stroke-linecap="butt"/>
<rect x="871.10" y="1197.60" width="23.80" height="36.50" fill="#888888" stroke="#1a1a1a" stroke-width="1.3" rx="1"/>
<line x1="871.50" y1="1220.60" x2="894.50" y2="1220.60" stroke="#000" stroke-width="2.2" stroke-linecap="butt"/>
<line x1="872.00" y1="1211.60" x2="894.00" y2="1211.60" stroke="#fff" stroke-width="1.6" stroke-linecap="butt"/>
<line x1="913.85" y1="1094.10" x2="913.85" y2="1129.60" stroke="#000" stroke-width="2" stroke-linecap="butt"/>
<line x1="913.85" y1="1209.10" x2="913.85" y2="1232.70" stroke="#000" stroke-width="2" stroke-linecap="butt"/>
<line x1="904.85" y1="1094.10" x2="922.85" y2="1094.10" stroke="#000" stroke-width="2" stroke-linecap="butt"/>
<line x1="904.85" y1="1232.70" x2="922.85" y2="1232.70" stroke="#000" stroke-width="2" stroke-linecap="butt"/>
<rect x="901.90" y="1130.20" width="23.90" height="78.30" fill="#31909a" stroke="#1a1a1a" stroke-width="1.3" rx="1"/>
<line x1="902.30" y1="1184.80" x2="925.40" y2="1184.80" stroke="#000" stroke-width="2.2" stroke-linecap="butt"/>
<line x1="902.80" y1="1169.00" x2="924.90" y2="1169.00" stroke="#fff" stroke-width="1.6" stroke-linecap="butt"/>
<path d="M259.80,793.50L259.80,788.71M259.80,793.50L264.35,792.02M259.80,793.50L262.61,797.37M259.80,793.50L256.99,797.37M259.80,793.50L255.25,792.02" stroke="#fff" stroke-width="2.07" stroke-linecap="butt" fill="none"/>
<path d="M289.30,793.50L289.30,788.71M289.30,793.50L293.85,792.02M289.30,793.50L292.11,797.37M289.30,793.50L286.49,797.37M289.30,793.50L284.75,792.02" stroke="#fff" stroke-width="2.07" stroke-linecap="butt" fill="none"/>
<path d="M320.20,813.30L320.20,808.51M320.20,813.30L324.75,811.82M320.20,813.30L323.01,817.17M320.20,813.30L317.39,817.17M320.20,813.30L315.65,811.82" stroke="#fff" stroke-width="2.07" stroke-linecap="butt" fill="none"/>
<circle cx="382.1" cy="803.3" r="11.2" fill="none" stroke="#fff" stroke-width="2.8"/>
<circle cx="412.6" cy="834.6" r="10.7" fill="none" stroke="#fff" stroke-width="2.8"/>
<path d="M412.70,835.20L412.70,831.06M412.70,835.20L416.64,833.92M412.70,835.20L415.13,838.55M412.70,835.20L410.27,838.55M412.70,835.20L408.76,833.92" stroke="#fff" stroke-width="1.79" stroke-linecap="butt" fill="none"/>
<circle cx="443.4" cy="818.7" r="11.1" fill="none" stroke="#fff" stroke-width="2.8"/>
<path d="M731.40,848.50L731.40,844.62M731.40,848.50L735.09,847.30M731.40,848.50L733.68,851.64M731.40,848.50L729.12,851.64M731.40,848.50L727.71,847.30" stroke="#fff" stroke-width="1.68" stroke-linecap="butt" fill="none"/>
<circle cx="853.6" cy="858.8" r="10.9" fill="none" stroke="#fff" stroke-width="2.8"/>
<path d="M257.60,1175.10L257.60,1170.31M257.60,1175.10L262.15,1173.62M257.60,1175.10L260.41,1178.97M257.60,1175.10L254.79,1178.97M257.60,1175.10L253.05,1173.62" stroke="#fff" stroke-width="2.07" stroke-linecap="butt" fill="none"/>
<path d="M288.50,1181.90L288.50,1177.11M288.50,1181.90L293.05,1180.42M288.50,1181.90L291.31,1185.77M288.50,1181.90L285.69,1185.77M288.50,1181.90L283.95,1180.42" stroke="#fff" stroke-width="2.07" stroke-linecap="butt" fill="none"/>
<circle cx="380.4" cy="1203.1" r="10.7" fill="none" stroke="#fff" stroke-width="2.8"/>
<path d="M380.40,1203.60L380.40,1199.72M380.40,1203.60L384.09,1202.40M380.40,1203.60L382.68,1206.74M380.40,1203.60L378.12,1206.74M380.40,1203.60L376.71,1202.40" stroke="#fff" stroke-width="1.68" stroke-linecap="butt" fill="none"/>
<circle cx="411.5" cy="1184.3" r="10.7" fill="none" stroke="#fff" stroke-width="2.8"/>
<path d="M411.50,1184.80L411.50,1180.92M411.50,1184.80L415.19,1183.60M411.50,1184.80L413.78,1187.94M411.50,1184.80L409.22,1187.94M411.50,1184.80L407.81,1183.60" stroke="#fff" stroke-width="1.68" stroke-linecap="butt" fill="none"/>
<circle cx="442.4" cy="1216.4" r="10.7" fill="none" stroke="#fff" stroke-width="2.8"/>
<path d="M442.40,1216.90L442.40,1213.02M442.40,1216.90L446.09,1215.70M442.40,1216.90L444.68,1220.04M442.40,1216.90L440.12,1220.04M442.40,1216.90L438.71,1215.70" stroke="#fff" stroke-width="1.68" stroke-linecap="butt" fill="none"/>
<path d="M853.40,1225.40L853.40,1221.52M853.40,1225.40L857.09,1224.20M853.40,1225.40L855.68,1228.54M853.40,1225.40L851.12,1228.54M853.40,1225.40L849.71,1224.20" stroke="#fff" stroke-width="1.68" stroke-linecap="butt" fill="none"/>
<line x1="89.80" y1="626.30" x2="89.80" y2="934.50" stroke="#000" stroke-width="2" stroke-linecap="butt"/>
<line x1="88.80" y1="933.50" x2="473.00" y2="933.50" stroke="#000" stroke-width="2" stroke-linecap="butt"/>
<line x1="83.80" y1="627.30" x2="89.80" y2="627.30" stroke="#000" stroke-width="2" stroke-linecap="butt"/>
<text x="75.1" y="633.7" font-size="22.8" text-anchor="end" fill="#000" font-weight="normal" >100</text>
<line x1="83.80" y1="695.40" x2="89.80" y2="695.40" stroke="#000" stroke-width="2" stroke-linecap="butt"/>
<text x="75.1" y="701.8" font-size="22.8" text-anchor="end" fill="#000" font-weight="normal" >80</text>
<line x1="83.80" y1="763.40" x2="89.80" y2="763.40" stroke="#000" stroke-width="2" stroke-linecap="butt"/>
<text x="75.1" y="769.8" font-size="22.8" text-anchor="end" fill="#000" font-weight="normal" >60</text>
<line x1="83.80" y1="831.50" x2="89.80" y2="831.50" stroke="#000" stroke-width="2" stroke-linecap="butt"/>
<text x="75.1" y="837.9" font-size="22.8" text-anchor="end" fill="#000" font-weight="normal" >40</text>
<line x1="83.80" y1="899.50" x2="89.80" y2="899.50" stroke="#000" stroke-width="2" stroke-linecap="butt"/>
<text x="75.1" y="905.9" font-size="22.8" text-anchor="end" fill="#000" font-weight="normal" >20</text>
<line x1="561.00" y1="626.00" x2="561.00" y2="934.30" stroke="#000" stroke-width="2" stroke-linecap="butt"/>
<line x1="560.00" y1="933.30" x2="945.00" y2="933.30" stroke="#000" stroke-width="2" stroke-linecap="butt"/>
<line x1="561.00" y1="627.00" x2="567.00" y2="627.00" stroke="#000" stroke-width="2" stroke-linecap="butt"/>
<text x="548.7" y="633.4" font-size="22.8" text-anchor="end" fill="#000" font-weight="normal" >25</text>
<line x1="555.00" y1="678.80" x2="561.00" y2="678.80" stroke="#000" stroke-width="2" stroke-linecap="butt"/>
<text x="548.7" y="685.2" font-size="22.8" text-anchor="end" fill="#000" font-weight="normal" >20</text>
<line x1="555.00" y1="730.60" x2="561.00" y2="730.60" stroke="#000" stroke-width="2" stroke-linecap="butt"/>
<text x="548.7" y="737.0" font-size="22.8" text-anchor="end" fill="#000" font-weight="normal" >15</text>
<line x1="555.00" y1="782.50" x2="561.00" y2="782.50" stroke="#000" stroke-width="2" stroke-linecap="butt"/>
<text x="548.7" y="788.9" font-size="22.8" text-anchor="end" fill="#000" font-weight="normal" >10</text>
<line x1="555.00" y1="834.30" x2="561.00" y2="834.30" stroke="#000" stroke-width="2" stroke-linecap="butt"/>
<text x="548.7" y="840.7" font-size="22.8" text-anchor="end" fill="#000" font-weight="normal" >5</text>
<line x1="555.00" y1="886.10" x2="561.00" y2="886.10" stroke="#000" stroke-width="2" stroke-linecap="butt"/>
<text x="548.7" y="892.5" font-size="22.8" text-anchor="end" fill="#000" font-weight="normal" >0</text>
<line x1="89.30" y1="1009.60" x2="89.30" y2="1318.50" stroke="#000" stroke-width="2" stroke-linecap="butt"/>
<line x1="88.30" y1="1317.50" x2="472.50" y2="1317.50" stroke="#000" stroke-width="2" stroke-linecap="butt"/>
<line x1="83.30" y1="1010.60" x2="89.30" y2="1010.60" stroke="#000" stroke-width="2" stroke-linecap="butt"/>
<text x="74.6" y="1017.0" font-size="22.8" text-anchor="end" fill="#000" font-weight="normal" >100</text>
<line x1="83.30" y1="1078.60" x2="89.30" y2="1078.60" stroke="#000" stroke-width="2" stroke-linecap="butt"/>
<text x="74.6" y="1085.0" font-size="22.8" text-anchor="end" fill="#000" font-weight="normal" >80</text>
<line x1="83.30" y1="1146.60" x2="89.30" y2="1146.60" stroke="#000" stroke-width="2" stroke-linecap="butt"/>
<text x="74.6" y="1153.0" font-size="22.8" text-anchor="end" fill="#000" font-weight="normal" >60</text>
<line x1="83.30" y1="1215.00" x2="89.30" y2="1215.00" stroke="#000" stroke-width="2" stroke-linecap="butt"/>
<text x="74.6" y="1221.4" font-size="22.8" text-anchor="end" fill="#000" font-weight="normal" >40</text>
<line x1="83.30" y1="1283.00" x2="89.30" y2="1283.00" stroke="#000" stroke-width="2" stroke-linecap="butt"/>
<text x="74.6" y="1289.4" font-size="22.8" text-anchor="end" fill="#000" font-weight="normal" >20</text>
<line x1="560.00" y1="1010.20" x2="560.00" y2="1318.40" stroke="#000" stroke-width="2" stroke-linecap="butt"/>
<line x1="559.00" y1="1317.40" x2="945.00" y2="1317.40" stroke="#000" stroke-width="2" stroke-linecap="butt"/>
<line x1="554.00" y1="1011.20" x2="560.00" y2="1011.20" stroke="#000" stroke-width="2" stroke-linecap="butt"/>
<text x="547.5" y="1017.6" font-size="22.8" text-anchor="end" fill="#000" font-weight="normal" >25</text>
<line x1="554.00" y1="1062.90" x2="560.00" y2="1062.90" stroke="#000" stroke-width="2" stroke-linecap="butt"/>
<text x="547.5" y="1069.3" font-size="22.8" text-anchor="end" fill="#000" font-weight="normal" >20</text>
<line x1="554.00" y1="1114.60" x2="560.00" y2="1114.60" stroke="#000" stroke-width="2" stroke-linecap="butt"/>
<text x="547.5" y="1121.0" font-size="22.8" text-anchor="end" fill="#000" font-weight="normal" >15</text>
<line x1="554.00" y1="1166.60" x2="560.00" y2="1166.60" stroke="#000" stroke-width="2" stroke-linecap="butt"/>
<text x="547.5" y="1173.0" font-size="22.8" text-anchor="end" fill="#000" font-weight="normal" >10</text>
<line x1="554.00" y1="1218.80" x2="560.00" y2="1218.80" stroke="#000" stroke-width="2" stroke-linecap="butt"/>
<text x="547.5" y="1225.2" font-size="22.8" text-anchor="end" fill="#000" font-weight="normal" >5</text>
<line x1="554.00" y1="1270.60" x2="560.00" y2="1270.60" stroke="#000" stroke-width="2" stroke-linecap="butt"/>
<text x="547.5" y="1277.0" font-size="22.8" text-anchor="end" fill="#000" font-weight="normal" >0</text>
<line x1="123.80" y1="939.40" x2="207.90" y2="939.40" stroke="#000" stroke-width="3" stroke-linecap="butt"/>
<line x1="247.60" y1="939.40" x2="330.80" y2="939.40" stroke="#000" stroke-width="3" stroke-linecap="butt"/>
<line x1="369.20" y1="939.40" x2="452.70" y2="939.40" stroke="#000" stroke-width="3" stroke-linecap="butt"/>
<line x1="596.70" y1="938.90" x2="679.50" y2="938.90" stroke="#000" stroke-width="3" stroke-linecap="butt"/>
<line x1="719.90" y1="938.90" x2="802.70" y2="938.90" stroke="#000" stroke-width="3" stroke-linecap="butt"/>
<line x1="841.00" y1="938.90" x2="924.80" y2="938.90" stroke="#000" stroke-width="3" stroke-linecap="butt"/>
<line x1="121.80" y1="1322.80" x2="206.50" y2="1322.80" stroke="#000" stroke-width="3" stroke-linecap="butt"/>
<line x1="247.10" y1="1322.80" x2="330.80" y2="1322.80" stroke="#000" stroke-width="3" stroke-linecap="butt"/>
<line x1="368.90" y1="1322.80" x2="451.60" y2="1322.80" stroke="#000" stroke-width="3" stroke-linecap="butt"/>
<line x1="596.40" y1="1323.30" x2="679.90" y2="1323.30" stroke="#000" stroke-width="3" stroke-linecap="butt"/>
<line x1="719.10" y1="1323.30" x2="803.70" y2="1323.30" stroke="#000" stroke-width="3" stroke-linecap="butt"/>
<line x1="840.30" y1="1323.30" x2="925.40" y2="1323.30" stroke="#000" stroke-width="3" stroke-linecap="butt"/>
<text x="160.2" y="967.2" font-size="23" text-anchor="middle" fill="#000" font-weight="normal" >0–7 Days</text>
<text x="289.7" y="967.2" font-size="23" text-anchor="middle" fill="#000" font-weight="normal" >20–28 Days</text>
<text x="412.4" y="967.2" font-size="23" text-anchor="middle" fill="#000" font-weight="normal" >Adult</text>
<text x="646.7" y="967.0" font-size="23" text-anchor="middle" fill="#000" font-weight="normal" >0–7 Days</text>
<text x="772.3" y="967.0" font-size="23" text-anchor="middle" fill="#000" font-weight="normal" >20–28 Days</text>
<text x="887.1" y="967.0" font-size="23" text-anchor="middle" fill="#000" font-weight="normal" >Adult</text>
<text x="163.1" y="1350.5" font-size="23" text-anchor="middle" fill="#000" font-weight="normal" >0–7 Days</text>
<text x="293.0" y="1350.5" font-size="23" text-anchor="middle" fill="#000" font-weight="normal" >20–28 Days</text>
<text x="411.5" y="1350.5" font-size="23" text-anchor="middle" fill="#000" font-weight="normal" >Adult</text>
<text x="633.2" y="1350.2" font-size="23" text-anchor="middle" fill="#000" font-weight="normal" >0–7 Days</text>
<text x="763.3" y="1350.2" font-size="23" text-anchor="middle" fill="#000" font-weight="normal" >20–28 Days</text>
<text x="886.9" y="1350.2" font-size="23" text-anchor="middle" fill="#000" font-weight="normal" >Adult</text>
<text x="95.0" y="920.4" font-size="19.5" font-style="italic">n</text>
<text transform="translate(109.6,920.4) scale(1.1,1)" font-size="19.5">=</text>
<text transform="translate(138.9,920.4) scale(1.08,1)" font-size="19.5" text-anchor="middle">27</text>
<text transform="translate(170.8,920.4) scale(1.08,1)" font-size="19.5" text-anchor="middle">28</text>
<text transform="translate(199.8,920.4) scale(1.08,1)" font-size="19.5" text-anchor="middle">31</text>
<text transform="translate(260.9,920.4) scale(1.08,1)" font-size="19.5" text-anchor="middle">49</text>
<text transform="translate(290.9,920.4) scale(1.08,1)" font-size="19.5" text-anchor="middle">46</text>
<text transform="translate(323.1,920.4) scale(1.08,1)" font-size="19.5" text-anchor="middle">23</text>
<text transform="translate(384.7,920.4) scale(1.08,1)" font-size="19.5" text-anchor="middle">49</text>
<text transform="translate(415.5,920.4) scale(1.08,1)" font-size="19.5" text-anchor="middle">55</text>
<text transform="translate(445.6,920.4) scale(1.08,1)" font-size="19.5" text-anchor="middle">40</text>
<text x="566.0" y="920.4" font-size="19.5" font-style="italic">n</text>
<text transform="translate(580.6,920.4) scale(1.1,1)" font-size="19.5">=</text>
<text transform="translate(613.0,920.4) scale(1.08,1)" font-size="19.5" text-anchor="middle">24</text>
<text transform="translate(643.7,920.4) scale(1.08,1)" font-size="19.5" text-anchor="middle">23</text>
<text transform="translate(671.8,920.4) scale(1.08,1)" font-size="19.5" text-anchor="middle">21</text>
<text transform="translate(733.4,920.4) scale(1.08,1)" font-size="19.5" text-anchor="middle">48</text>
<text transform="translate(765.5,920.4) scale(1.08,1)" font-size="19.5" text-anchor="middle">46</text>
<text transform="translate(794.6,920.4) scale(1.08,1)" font-size="19.5" text-anchor="middle">23</text>
<text transform="translate(855.8,920.4) scale(1.08,1)" font-size="19.5" text-anchor="middle">49</text>
<text transform="translate(886.9,920.4) scale(1.08,1)" font-size="19.5" text-anchor="middle">55</text>
<text transform="translate(917.4,920.4) scale(1.08,1)" font-size="19.5" text-anchor="middle">40</text>
<text x="96.0" y="1308.0" font-size="19.5" font-style="italic">n</text>
<text transform="translate(110.6,1308.0) scale(1.1,1)" font-size="19.5">=</text>
<text transform="translate(137.0,1308.0) scale(1.08,1)" font-size="19.5" text-anchor="middle">29</text>
<text transform="translate(166.7,1308.0) scale(1.08,1)" font-size="19.5" text-anchor="middle">33</text>
<text transform="translate(195.8,1308.0) scale(1.08,1)" font-size="19.5" text-anchor="middle">29</text>
<text transform="translate(258.2,1308.0) scale(1.08,1)" font-size="19.5" text-anchor="middle">51</text>
<text transform="translate(290.0,1308.0) scale(1.08,1)" font-size="19.5" text-anchor="middle">56</text>
<text transform="translate(320.9,1308.0) scale(1.08,1)" font-size="19.5" text-anchor="middle">51</text>
<text transform="translate(382.3,1308.0) scale(1.08,1)" font-size="19.5" text-anchor="middle">31</text>
<text transform="translate(416.8,1308.0) scale(1.08,1)" font-size="19.5" text-anchor="middle">53</text>
<text transform="translate(445.2,1308.0) scale(1.08,1)" font-size="19.5" text-anchor="middle">57</text>
<text x="569.0" y="1308.3" font-size="19.5" font-style="italic">n</text>
<text transform="translate(583.6,1308.3) scale(1.1,1)" font-size="19.5">=</text>
<text transform="translate(610.0,1308.3) scale(1.08,1)" font-size="19.5" text-anchor="middle">27</text>
<text transform="translate(640.0,1308.3) scale(1.08,1)" font-size="19.5" text-anchor="middle">32</text>
<text transform="translate(671.4,1308.3) scale(1.08,1)" font-size="19.5" text-anchor="middle">28</text>
<text transform="translate(735.0,1308.3) scale(1.08,1)" font-size="19.5" text-anchor="middle">50</text>
<text transform="translate(766.3,1308.3) scale(1.08,1)" font-size="19.5" text-anchor="middle">55</text>
<text transform="translate(794.2,1308.3) scale(1.08,1)" font-size="19.5" text-anchor="middle">50</text>
<text transform="translate(855.0,1308.3) scale(1.08,1)" font-size="19.5" text-anchor="middle">26</text>
<text transform="translate(885.5,1308.3) scale(1.08,1)" font-size="19.5" text-anchor="middle">48</text>
<text transform="translate(914.2,1308.3) scale(1.08,1)" font-size="19.5" text-anchor="middle">52</text>
<text x="93.3" y="617.4" font-size="23.5" text-anchor="start" fill="#000" font-weight="normal" font-style="italic" >PP</text>
<text x="94.0" y="1000.9" font-size="23.5" text-anchor="start" fill="#000" font-weight="normal" font-style="italic" >CP</text>
<text x="385.0" y="649.0" font-size="21.6" text-anchor="middle" fill="#000" font-weight="normal" >CD (ms)</text>
<text x="314.4" y="678.2" font-size="21.5" text-anchor="middle" fill="#c8323a" font-weight="normal" >0–4.9</text>
<text x="379.9" y="678.2" font-size="21.5" text-anchor="middle" fill="#8a8a8a" font-weight="normal" >5–9.9</text>
<path d="M417.3,665.8L430.6,671.1L417.3,676.5M417.3,680.3L430.6,674.8" stroke="#2e8f98" stroke-width="1.6" fill="none" stroke-linejoin="miter"/>
<text x="447.5" y="678.4" font-size="21.5" text-anchor="middle" fill="#2e8f98" font-weight="normal" >10</text>
<text transform="translate(22,992) rotate(-90)" font-size="23.3" text-anchor="middle">Characteristic delay (CD) level (dB SPL)</text>
<text transform="translate(506.9,953.5) rotate(-90)" font-size="23.3" text-anchor="middle">Delay tuning width (ms)</text>
<text x="511.0" y="1386.5" font-size="23" text-anchor="middle" fill="#000" font-weight="normal" >Age</text>
</svg>
</body></html>
